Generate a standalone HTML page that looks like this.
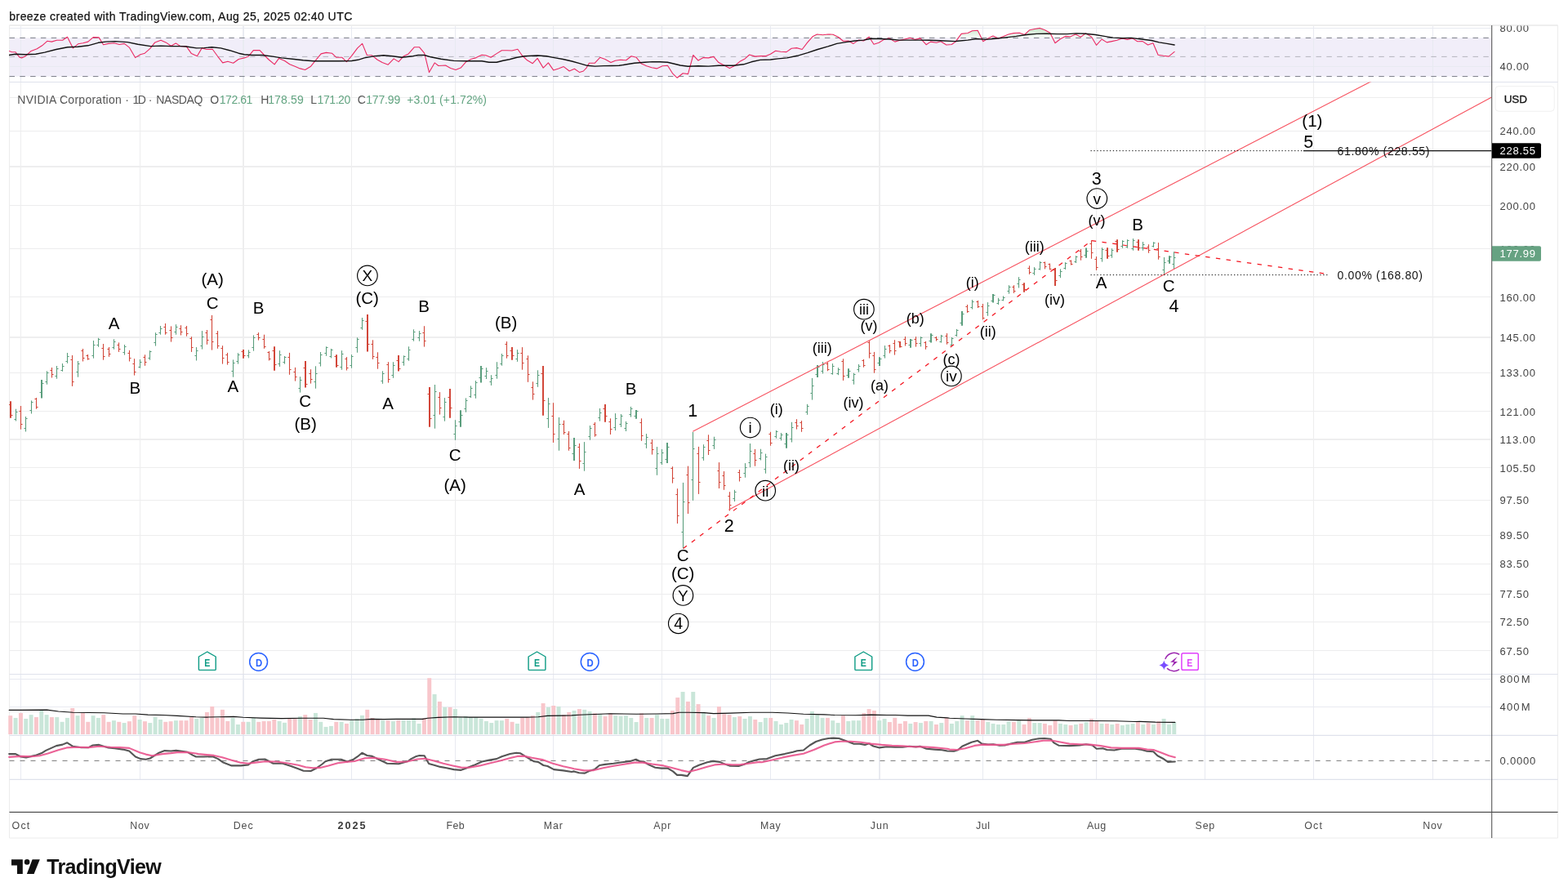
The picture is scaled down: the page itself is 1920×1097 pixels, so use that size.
<!DOCTYPE html>
<html lang="en"><head><meta charset="utf-8"><title>NVDA chart</title>
<style>html,body{margin:0;padding:0;background:#fff;overflow:hidden}svg{display:block}</style></head>
<body>
<svg width="1920" height="1097" viewBox="0 0 1920 1097" font-family='"Liberation Sans", Arial, Helvetica, sans-serif'>
<rect width="1920" height="1097" fill="#fff"/>
<defs><clipPath id="cm"><rect x="11" y="100.5" width="1815.5" height="725"/></clipPath><clipPath id="cr"><rect x="11" y="31" width="1815.5" height="69.5"/></clipPath><linearGradient id="og" gradientUnits="userSpaceOnUse" x1="0" y1="33" x2="0" y2="46.4"><stop offset="0" stop-color="#bfe3c2"/><stop offset="1" stop-color="#bfe3c2" stop-opacity="0.08"/></linearGradient><clipPath id="ca"><rect x="1827" y="31.5" width="80" height="994"/></clipPath></defs>
<text x="11.3" y="25" font-size="14" fill="#111" text-anchor="start" font-weight="normal" textLength="420" lengthAdjust="spacing" stroke="#111" stroke-width="0.25">breeze created with TradingView.com, Aug 25, 2025 02:40 UTC</text>
<rect x="11.5" y="46.4" width="1815.2" height="47.2" fill="#f1eef9"/>
<line x1="25.5" y1="31" x2="25.5" y2="100.5" stroke="#e8eaf1" stroke-width="1" />
<line x1="25.5" y1="100.5" x2="25.5" y2="825.5" stroke="#ededee" stroke-width="1" />
<line x1="25.5" y1="825.5" x2="25.5" y2="954.5" stroke="#e8eaf1" stroke-width="1" />
<line x1="171.5" y1="31" x2="171.5" y2="100.5" stroke="#e8eaf1" stroke-width="1" />
<line x1="171.5" y1="100.5" x2="171.5" y2="825.5" stroke="#ededee" stroke-width="1" />
<line x1="171.5" y1="825.5" x2="171.5" y2="954.5" stroke="#e8eaf1" stroke-width="1" />
<line x1="298" y1="31" x2="298" y2="100.5" stroke="#e9ebf1" stroke-width="2" />
<line x1="298" y1="100.5" x2="298" y2="825.5" stroke="#eeeeef" stroke-width="2" />
<line x1="298" y1="825.5" x2="298" y2="954.5" stroke="#e9ebf1" stroke-width="2" />
<line x1="430.5" y1="31" x2="430.5" y2="100.5" stroke="#e8eaf1" stroke-width="1" />
<line x1="430.5" y1="100.5" x2="430.5" y2="825.5" stroke="#ededee" stroke-width="1" />
<line x1="430.5" y1="825.5" x2="430.5" y2="954.5" stroke="#e8eaf1" stroke-width="1" />
<line x1="557.5" y1="31" x2="557.5" y2="100.5" stroke="#e8eaf1" stroke-width="1" />
<line x1="557.5" y1="100.5" x2="557.5" y2="825.5" stroke="#ededee" stroke-width="1" />
<line x1="557.5" y1="825.5" x2="557.5" y2="954.5" stroke="#e8eaf1" stroke-width="1" />
<line x1="677.5" y1="31" x2="677.5" y2="100.5" stroke="#e8eaf1" stroke-width="1" />
<line x1="677.5" y1="100.5" x2="677.5" y2="825.5" stroke="#ededee" stroke-width="1" />
<line x1="677.5" y1="825.5" x2="677.5" y2="954.5" stroke="#e8eaf1" stroke-width="1" />
<line x1="810.5" y1="31" x2="810.5" y2="100.5" stroke="#e8eaf1" stroke-width="1" />
<line x1="810.5" y1="100.5" x2="810.5" y2="825.5" stroke="#ededee" stroke-width="1" />
<line x1="810.5" y1="825.5" x2="810.5" y2="954.5" stroke="#e8eaf1" stroke-width="1" />
<line x1="943.5" y1="31" x2="943.5" y2="100.5" stroke="#e8eaf1" stroke-width="1" />
<line x1="943.5" y1="100.5" x2="943.5" y2="825.5" stroke="#ededee" stroke-width="1" />
<line x1="943.5" y1="825.5" x2="943.5" y2="954.5" stroke="#e8eaf1" stroke-width="1" />
<line x1="1077" y1="31" x2="1077" y2="100.5" stroke="#e9ebf1" stroke-width="2" />
<line x1="1077" y1="100.5" x2="1077" y2="825.5" stroke="#eeeeef" stroke-width="2" />
<line x1="1077" y1="825.5" x2="1077" y2="954.5" stroke="#e9ebf1" stroke-width="2" />
<line x1="1203.5" y1="31" x2="1203.5" y2="100.5" stroke="#e8eaf1" stroke-width="1" />
<line x1="1203.5" y1="100.5" x2="1203.5" y2="825.5" stroke="#ededee" stroke-width="1" />
<line x1="1203.5" y1="825.5" x2="1203.5" y2="954.5" stroke="#e8eaf1" stroke-width="1" />
<line x1="1342.5" y1="31" x2="1342.5" y2="100.5" stroke="#e8eaf1" stroke-width="1" />
<line x1="1342.5" y1="100.5" x2="1342.5" y2="825.5" stroke="#ededee" stroke-width="1" />
<line x1="1342.5" y1="825.5" x2="1342.5" y2="954.5" stroke="#e8eaf1" stroke-width="1" />
<line x1="1475.5" y1="31" x2="1475.5" y2="100.5" stroke="#e8eaf1" stroke-width="1" />
<line x1="1475.5" y1="100.5" x2="1475.5" y2="825.5" stroke="#ededee" stroke-width="1" />
<line x1="1475.5" y1="825.5" x2="1475.5" y2="954.5" stroke="#e8eaf1" stroke-width="1" />
<line x1="1608.5" y1="31" x2="1608.5" y2="100.5" stroke="#e8eaf1" stroke-width="1" />
<line x1="1608.5" y1="100.5" x2="1608.5" y2="825.5" stroke="#ededee" stroke-width="1" />
<line x1="1608.5" y1="825.5" x2="1608.5" y2="954.5" stroke="#e8eaf1" stroke-width="1" />
<line x1="1754.5" y1="31" x2="1754.5" y2="100.5" stroke="#e8eaf1" stroke-width="1" />
<line x1="1754.5" y1="100.5" x2="1754.5" y2="825.5" stroke="#ededee" stroke-width="1" />
<line x1="1754.5" y1="825.5" x2="1754.5" y2="954.5" stroke="#e8eaf1" stroke-width="1" />
<line x1="11.5" y1="119.5" x2="1826.1" y2="119.5" stroke="#ededee" stroke-width="1" />
<line x1="11.5" y1="160.5" x2="1826.1" y2="160.5" stroke="#ededee" stroke-width="1" />
<line x1="11.5" y1="204" x2="1826.1" y2="204" stroke="#eeeeef" stroke-width="2" />
<line x1="11.5" y1="251.5" x2="1826.1" y2="251.5" stroke="#ededee" stroke-width="1" />
<line x1="11.5" y1="304.5" x2="1826.1" y2="304.5" stroke="#ededee" stroke-width="1" />
<line x1="11.5" y1="363.5" x2="1826.1" y2="363.5" stroke="#ededee" stroke-width="1" />
<line x1="11.5" y1="413" x2="1826.1" y2="413" stroke="#eeeeef" stroke-width="2" />
<line x1="11.5" y1="456.5" x2="1826.1" y2="456.5" stroke="#ededee" stroke-width="1" />
<line x1="11.5" y1="503.5" x2="1826.1" y2="503.5" stroke="#ededee" stroke-width="1" />
<line x1="11.5" y1="538" x2="1826.1" y2="538" stroke="#eeeeef" stroke-width="2" />
<line x1="11.5" y1="572.5" x2="1826.1" y2="572.5" stroke="#ededee" stroke-width="1" />
<line x1="11.5" y1="612.5" x2="1826.1" y2="612.5" stroke="#ededee" stroke-width="1" />
<line x1="11.5" y1="655.5" x2="1826.1" y2="655.5" stroke="#ededee" stroke-width="1" />
<line x1="11.5" y1="690.5" x2="1826.1" y2="690.5" stroke="#ededee" stroke-width="1" />
<line x1="11.5" y1="727.5" x2="1826.1" y2="727.5" stroke="#ededee" stroke-width="1" />
<line x1="11.5" y1="761.5" x2="1826.1" y2="761.5" stroke="#ededee" stroke-width="1" />
<line x1="11.5" y1="796.5" x2="1826.1" y2="796.5" stroke="#ededee" stroke-width="1" />
<line x1="11.5" y1="34.5" x2="1826.1" y2="34.5" stroke="#e8eaf1" stroke-width="1" />
<line x1="11.5" y1="81.5" x2="1826.1" y2="81.5" stroke="#e8eaf1" stroke-width="1" />
<line x1="11.5" y1="831.5" x2="1826.1" y2="831.5" stroke="#e8eaf1" stroke-width="1" />
<line x1="11.5" y1="865.5" x2="1826.1" y2="865.5" stroke="#e8eaf1" stroke-width="1" />
<line x1="11.5" y1="31" x2="1907.5" y2="31" stroke="#eeeeee" stroke-width="2" />
<line x1="11.5" y1="31" x2="11.5" y2="1026" stroke="#ececec" stroke-width="1" />
<line x1="1907.5" y1="31" x2="1907.5" y2="1026" stroke="#ececec" stroke-width="1" />
<line x1="11.5" y1="1026" x2="1907.5" y2="1026" stroke="#ececec" stroke-width="1" />
<line x1="11.5" y1="100.5" x2="1907.5" y2="100.5" stroke="#dfe2ec" stroke-width="1.2" />
<line x1="11.5" y1="825.5" x2="1907.5" y2="825.5" stroke="#dfe2ec" stroke-width="1.2" />
<line x1="11.5" y1="900.4" x2="1907.5" y2="900.4" stroke="#dfe2ec" stroke-width="1.2" />
<line x1="11.5" y1="954.4" x2="1907.5" y2="954.4" stroke="#dfe2ec" stroke-width="1.2" />
<path d="M10.9,46.4 L14.1,46.4 L19.1,46.4 L21.1,46.4 L24.2,46.4 L26.6,46.4 L31.2,46.4 L37.5,46.4 L45.3,46.4 L51.6,46.4 L57.8,46.4 L63.3,46.4 L69.5,46.4 L76.6,46.4 L82.5,45.3 L89.4,46.4 L95.6,46.4 L101.6,46.4 L107.8,46.4 L114.1,45.6 L121.1,45.9 L126.6,46.4 L132.8,46.4 L139.8,46.4 L146.1,46.4 L152.3,46.4 L158.6,46.4 L165.6,46.4 L171.9,46.4 L177.3,46.4 L183.6,46.4 L189.8,46.4 L196.9,46.4 L203.1,46.4 L209.4,46.4 L215.3,46.4 L221.1,46.4 L228.1,46.4 L234.4,46.4 L241.4,46.4 L247.2,46.4 L253.1,46.4 L260.2,46.4 L266.4,46.4 L272.7,46.4 L278.9,46.4 L285.6,46.4 L292.2,46.4 L299.2,46.4 L304.1,46.4 L310.3,46.4 L318.1,46.4 L323.6,46.4 L329.1,46.4 L336.1,46.4 L341.6,46.4 L348.6,46.4 L354.8,46.4 L361.1,46.4 L367.3,46.4 L373.6,46.4 L380.6,46.4 L386.9,46.4 L393.1,46.4 L399.4,46.4 L406.4,46.4 L411.9,46.4 L418.9,46.4 L424.4,46.4 L430.6,46.4 L437.7,46.4 L443.6,46.4 L449.4,46.4 L455.6,46.4 L461.9,46.4 L468.1,46.4 L475.2,46.4 L482.2,46.4 L488.1,46.4 L493.9,46.4 L500.2,46.4 L507.2,46.4 L513.4,46.4 L519.7,46.4 L525.5,46.4 L532.2,46.4 L536.9,46.4 L545.5,46.4 L551.7,46.4 L558,46.4 L564.2,46.4 L570.5,46.4 L576.7,46.4 L583,46.4 L590,46.4 L594.8,46.4 L601.1,46.4 L608.1,46.4 L614.4,46.4 L620.6,46.4 L626.9,46.4 L633.9,46.4 L639.4,46.4 L645.6,46.4 L652.2,46.4 L658.1,46.4 L665.2,46.4 L671.4,46.4 L677.7,46.4 L683.9,46.4 L690.2,46.4 L697.2,46.4 L703.4,46.4 L709.7,46.4 L714.4,46.4 L718.3,46.4 L721.4,46.4 L728.4,46.4 L734.7,46.4 L740.9,46.4 L748,46.4 L753.4,46.4 L759.7,46.4 L766.7,46.4 L773,46.4 L779.2,46.4 L785.5,46.4 L791.7,46.4 L798,46.4 L804.2,46.4 L811.2,46.4 L817.5,46.4 L823.8,46.4 L829.2,46.4 L836.2,46.4 L842.5,46.4 L848.8,46.4 L855,46.4 L861.2,46.4 L867.5,46.4 L873.8,46.4 L880,46.4 L887.2,46.4 L893.4,46.4 L899.7,46.4 L905.9,46.4 L912.2,46.4 L917.7,46.4 L924.7,46.4 L931.7,46.4 L938,46.4 L943.4,46.4 L949.7,46.4 L955.9,46.4 L963,46.4 L969.2,46.4 L975.5,46.4 L982.2,46.4 L988.8,46.4 L995,44.8 L1000.5,42 L1007.5,42.8 L1013.8,42 L1020,42.2 L1026.2,45.2 L1032.5,46.4 L1038.8,46.4 L1045,46.4 L1051.2,46.4 L1057.5,46.4 L1064.2,45.2 L1070,46.4 L1076.2,46.4 L1082.5,46.4 L1088.8,46.4 L1095.8,46.4 L1101.2,46.4 L1107.5,46.4 L1114.5,46.4 L1120.8,46.4 L1127,46.4 L1134.1,46.4 L1139.5,46.4 L1146.6,46.4 L1152,46.4 L1158.8,46.4 L1165.3,46.4 L1170,46.4 L1177.2,41.4 L1185,40.5 L1190.5,37.8 L1197.2,37.3 L1203.8,46.4 L1210,46.4 L1215.9,44.1 L1222.5,46.4 L1228.8,44.5 L1235,42 L1241.2,40.6 L1248.3,40.2 L1254.5,42.5 L1260.8,36.7 L1267,35.5 L1273.3,34.4 L1279.5,36.7 L1285.8,40.2 L1292,46.4 L1298.3,46.4 L1304.5,44.4 L1310.8,44.8 L1317,42 L1323.3,45.2 L1329.5,40.9 L1336.6,45.3 L1342.5,46.4 L1349.1,46.4 L1355.3,46.4 L1361.6,46.4 L1367.8,46.4 L1374.1,46.4 L1380.3,46.4 L1386.6,46.4 L1392.8,46.4 L1399.1,46.4 L1405.6,46.4 L1411.9,46.4 L1418.1,46.4 L1424.8,46.4 L1431.1,46.4 L1438.1,46.4 L1438.1,46.4 L10.9,46.4 Z" fill="url(#og)" stroke="none" clip-path="url(#cr)"/>
<line x1="11.5" y1="46.4" x2="1826.7" y2="46.4" stroke="#787b86" stroke-width="1" stroke-dasharray="6.5 6.3"/>
<line x1="11.5" y1="69.4" x2="1826.7" y2="69.4" stroke="#b4b4bd" stroke-width="1" stroke-dasharray="6.5 6.3"/>
<line x1="11.5" y1="93.6" x2="1826.7" y2="93.6" stroke="#787b86" stroke-width="1" stroke-dasharray="6.5 6.3"/>
<g clip-path="url(#cr)">
<polyline points="10.9,62.5 14.1,63.6 19.1,63.8 21.1,66.7 24.2,70.3 26.6,70.9 31.2,68.8 37.5,62.8 45.3,59.7 51.6,55.8 57.8,50.3 63.3,51.1 69.5,49.2 76.6,49.2 82.5,45.3 89.4,58.9 95.6,53.8 101.6,52.7 107.8,51.1 114.1,45.6 121.1,45.9 126.6,54.7 132.8,53.4 139.8,52.7 146.1,54.5 152.3,53.4 158.6,58.4 165.6,70.6 171.9,66.7 177.3,65.2 183.6,59.7 189.8,51.9 196.9,49.2 203.1,51.9 209.4,56.2 215.3,53 221.1,56.6 228.1,56.6 234.4,65.6 241.4,68.8 247.2,58.9 253.1,60.5 260.2,60.2 266.4,68.8 272.7,76.9 278.9,75.3 285.6,77.3 292.2,72.5 299.2,70.9 304.1,69.1 310.3,61.6 318.1,61.6 323.6,67.5 329.1,73 336.1,78.8 341.6,71.4 348.6,74.5 354.8,78.8 361.1,81.2 367.3,83.9 373.6,85.5 380.6,81.2 386.9,73.4 393.1,65.9 399.4,64.4 406.4,65.2 411.9,70.3 418.9,70.3 424.4,75.6 430.6,68.3 437.7,58.9 443.6,53.4 449.4,67.5 455.6,67.8 461.9,73 468.1,76.6 475.2,79.2 482.2,71.9 488.1,75.6 493.9,69.1 500.2,65.9 507.2,57.8 513.4,57.7 519.7,65.2 525.5,88.6 532.2,76.9 536.9,80.5 545.5,80 551.7,83.4 558,85.5 564.2,83.1 570.5,75.8 576.7,72.5 583,70.6 590,67.2 594.8,67.8 601.1,70.3 608.1,65.6 614.4,61.7 620.6,61.7 626.9,62 633.9,60.2 639.4,68 645.6,73.8 652.2,77.7 658.1,71.4 665.2,83.1 671.4,76.9 677.7,85.9 683.9,83.9 690.2,81.6 697.2,87 703.4,84.2 709.7,88.6 714.4,87 718.3,82.8 721.4,77.2 728.4,77.2 734.7,70.3 740.9,72.5 748,76.6 753.4,74.2 759.7,73.3 766.7,73.8 773,68.8 779.2,70.3 785.5,78.1 791.7,80.8 798,82.8 804.2,83.9 811.2,80.8 817.5,80.3 823.8,90.2 829.2,95.3 836.2,89.7 842.5,90.6 848.8,67.5 855,74.1 861.2,70.6 867.5,70.9 873.8,69.4 880,76.6 887.2,80.3 893.4,83.6 899.7,80.5 905.9,75.3 912.2,71.9 917.7,67 924.7,69.1 931.7,68.6 938,68.6 943.4,66.2 949.7,62.3 955.9,63.3 963,63.6 969.2,59.2 975.5,58.6 982.2,60.5 988.8,51.9 995,44.8 1000.5,42 1007.5,42.8 1013.8,42 1020,42.2 1026.2,45.2 1032.5,50.3 1038.8,50 1045,53.4 1051.2,49.1 1057.5,50 1064.2,45.2 1070,54.2 1076.2,52.3 1082.5,48.4 1088.8,46.7 1095.8,51.1 1101.2,49.5 1107.5,48 1114.5,46.4 1120.8,48.4 1127,46.9 1134.1,54.7 1139.5,51.1 1146.6,52.2 1152,50.8 1158.8,55 1165.3,54.5 1170,51.1 1177.2,41.4 1185,40.5 1190.5,37.8 1197.2,37.3 1203.8,50.8 1210,46.9 1215.9,44.1 1222.5,46.9 1228.8,44.5 1235,42 1241.2,40.6 1248.3,40.2 1254.5,42.5 1260.8,36.7 1267,35.5 1273.3,34.4 1279.5,36.7 1285.8,40.2 1292,52.7 1298.3,47.7 1304.5,44.4 1310.8,44.8 1317,42 1323.3,45.2 1329.5,40.9 1336.6,45.3 1342.5,55.3 1349.1,48 1355.3,51.9 1361.6,50.6 1367.8,49.2 1374.1,46.9 1380.3,48.4 1386.6,46.9 1392.8,50.8 1399.1,50.6 1405.6,55 1411.9,52.7 1418.1,67.2 1424.8,68.3 1431.1,69.1 1438.1,63.3" fill="none" stroke="#ea2a63" stroke-width="1.1" stroke-linejoin="round" stroke-linecap="round" />
<polyline points="10.9,67.5 18.8,66.2 31.2,66.7 43.8,66.2 54.7,64.1 68.8,60.5 82.8,57.7 95.3,57.3 107.8,55.8 120.3,52.3 129.7,51.1 140.6,50.6 156.2,51.6 168.8,54.2 184.4,56.6 196.9,56.1 209.4,56.6 221.9,56.6 228.1,57 240.6,58.9 250,58.6 259.4,57.8 270.3,58.9 281.2,61.7 292.2,65.2 299.2,66.7 308.8,67.5 321.2,67.5 333.8,69.1 344.7,70.9 360.3,72.5 371.2,73.8 383.8,74.7 399.4,74.7 415,74.7 430.6,74.5 438.4,73.3 446.2,70.9 458.8,68.6 469.7,67.8 480.6,68.8 491.6,70.3 505.6,68.8 511.9,67.5 519.7,67.5 527.5,69.8 540,72.2 555.6,74.4 571.2,74.7 590,74.7 598.8,76.2 608.1,76.2 615.9,74.2 623.8,72.7 633.1,70.3 642.5,68.8 658.1,68 669.1,68.8 680,70.9 689.4,72.5 700.3,75 709.7,77.7 719.1,80.3 728.4,81.1 739.4,80.6 748.8,80.5 758.1,80.3 767.5,78.8 776.9,77.2 789.4,76.2 798.8,75.6 808.1,75.8 817.5,76.2 823.8,77.7 833.1,80 842.5,81.2 855,80.8 867.5,81.1 880,80.3 885.6,80.3 898.1,80.3 910.6,78.8 920,75.8 930.9,73.4 943.4,73 952.8,71.9 963.8,70.9 976.2,68.3 988.8,64.7 1001.2,60.5 1013.8,56.9 1024.7,53.4 1035.6,51.6 1046.6,50 1057.5,49.1 1066.9,47.2 1076.2,47.5 1088.8,48 1101.2,49.1 1113.8,49.1 1126.2,49.1 1138.8,49.2 1151.2,49.8 1170,50.6 1172.5,50.3 1185,49.1 1195.9,47.5 1206.9,48.4 1219.4,47.2 1231.9,45.9 1244.4,44.4 1256.9,42.5 1269.4,41.4 1281.9,41.2 1294.4,41.6 1306.9,41.6 1317.8,40.9 1328.8,41.2 1341.2,42.5 1352.2,44.4 1363.1,46.1 1374.1,46.7 1385,46.4 1397.5,48 1410,49.5 1419.4,51.9 1428.8,53.4 1438.1,55" fill="none" stroke="#111" stroke-width="1.4" stroke-linejoin="round" stroke-linecap="round" />
</g>
<g clip-path="url(#cm)">
<path d="M13,491.2V511.7" stroke="#d2473a" stroke-width="2" fill="none"/>
<path d="M10.5,495.5H13M13,508.5H15.5" stroke="#d2473a" stroke-width="1" fill="none"/>
<path d="M19.5,500.7V515.5" stroke="#5b9e7d" stroke-width="1.1" fill="none"/>
<path d="M17.45,513.5H19.5M19.5,504.5H21.55" stroke="#5b9e7d" stroke-width="1" fill="none"/>
<path d="M25.5,497V525.7" stroke="#d2473a" stroke-width="1.1" fill="none"/>
<path d="M23.45,503.5H25.5M25.5,519.5H27.55" stroke="#d2473a" stroke-width="1" fill="none"/>
<path d="M31.5,510V528.5" stroke="#5b9e7d" stroke-width="1.1" fill="none"/>
<path d="M29.45,524.5H31.5M31.5,512.5H33.55" stroke="#5b9e7d" stroke-width="1" fill="none"/>
<path d="M38.5,490.4V506.5" stroke="#5b9e7d" stroke-width="1.1" fill="none"/>
<path d="M36.45,502.5H38.5M38.5,492.5H40.55" stroke="#5b9e7d" stroke-width="1" fill="none"/>
<path d="M44.5,487V500.7" stroke="#d2473a" stroke-width="1.1" fill="none"/>
<path d="M42.45,488.5H44.5M44.5,498.5H46.55" stroke="#d2473a" stroke-width="1" fill="none"/>
<path d="M51,465V487.6" stroke="#5b9e7d" stroke-width="2" fill="none"/>
<path d="M48.5,480.5H51M51,469.5H53.5" stroke="#5b9e7d" stroke-width="1" fill="none"/>
<path d="M57.5,454.3V470.7" stroke="#5b9e7d" stroke-width="1.1" fill="none"/>
<path d="M55.45,467.5H57.5M57.5,456.5H59.55" stroke="#5b9e7d" stroke-width="1" fill="none"/>
<path d="M63.5,450V462.5" stroke="#d2473a" stroke-width="1.1" fill="none"/>
<path d="M61.45,453.5H63.5M63.5,458.5H65.55" stroke="#d2473a" stroke-width="1" fill="none"/>
<path d="M69.5,448V463.7" stroke="#5b9e7d" stroke-width="1.1" fill="none"/>
<path d="M67.45,460.5H69.5M69.5,451.5H71.55" stroke="#5b9e7d" stroke-width="1" fill="none"/>
<path d="M76.5,445V454.8" stroke="#5b9e7d" stroke-width="1.1" fill="none"/>
<path d="M74.45,453.5H76.5M76.5,448.5H78.55" stroke="#5b9e7d" stroke-width="1" fill="none"/>
<path d="M82.5,432V444.8" stroke="#5b9e7d" stroke-width="1.1" fill="none"/>
<path d="M80.45,442.5H82.5M82.5,436.5H84.55" stroke="#5b9e7d" stroke-width="1" fill="none"/>
<path d="M88.5,435V472.9" stroke="#d2473a" stroke-width="1.1" fill="none"/>
<path d="M86.45,440.5H88.5M88.5,467.5H90.55" stroke="#d2473a" stroke-width="1" fill="none"/>
<path d="M95.5,442V461.7" stroke="#5b9e7d" stroke-width="1.1" fill="none"/>
<path d="M93.45,455.5H95.5M95.5,445.5H97.55" stroke="#5b9e7d" stroke-width="1" fill="none"/>
<path d="M101.5,427V442.5" stroke="#d2473a" stroke-width="1.1" fill="none"/>
<path d="M99.45,429.5H101.5M101.5,438.5H103.55" stroke="#d2473a" stroke-width="1" fill="none"/>
<path d="M107.5,434V440.7" stroke="#d2473a" stroke-width="1.1" fill="none"/>
<path d="M105.45,435.5H107.5M107.5,439.5H109.55" stroke="#d2473a" stroke-width="1" fill="none"/>
<path d="M114.5,417V438.7" stroke="#5b9e7d" stroke-width="1.1" fill="none"/>
<path d="M112.45,435.5H114.5M114.5,422.5H116.55" stroke="#5b9e7d" stroke-width="1" fill="none"/>
<path d="M120.5,413.8V424.8" stroke="#5b9e7d" stroke-width="1.1" fill="none"/>
<path d="M118.45,422.5H120.5M120.5,415.5H122.55" stroke="#5b9e7d" stroke-width="1" fill="none"/>
<path d="M126.5,421V440.7" stroke="#d2473a" stroke-width="1.1" fill="none"/>
<path d="M124.45,426.5H126.5M126.5,436.5H128.55" stroke="#d2473a" stroke-width="1" fill="none"/>
<path d="M133.5,425V436.8" stroke="#d2473a" stroke-width="1.1" fill="none"/>
<path d="M131.45,427.5H133.5M133.5,433.5H135.55" stroke="#d2473a" stroke-width="1" fill="none"/>
<path d="M139.5,415.3V427.7" stroke="#5b9e7d" stroke-width="1.1" fill="none"/>
<path d="M137.45,425.5H139.5M139.5,418.5H141.55" stroke="#5b9e7d" stroke-width="1" fill="none"/>
<path d="M145.5,419.4V430.9" stroke="#d2473a" stroke-width="1.1" fill="none"/>
<path d="M143.45,422.5H145.5M145.5,427.5H147.55" stroke="#d2473a" stroke-width="1" fill="none"/>
<path d="M152.5,422V434.6" stroke="#5b9e7d" stroke-width="1.1" fill="none"/>
<path d="M150.45,431.5H152.5M152.5,424.5H154.55" stroke="#5b9e7d" stroke-width="1" fill="none"/>
<path d="M158.5,428.9V442.5" stroke="#d2473a" stroke-width="1.1" fill="none"/>
<path d="M156.45,432.5H158.5M158.5,438.5H160.55" stroke="#d2473a" stroke-width="1" fill="none"/>
<path d="M164.5,439.2V459.6" stroke="#d2473a" stroke-width="1.1" fill="none"/>
<path d="M162.45,445.5H164.5M164.5,455.5H166.55" stroke="#d2473a" stroke-width="1" fill="none"/>
<path d="M171.5,440V450.7" stroke="#5b9e7d" stroke-width="1.1" fill="none"/>
<path d="M169.45,449.5H171.5M171.5,443.5H173.55" stroke="#5b9e7d" stroke-width="1" fill="none"/>
<path d="M177.5,434.3V447.8" stroke="#d2473a" stroke-width="1.1" fill="none"/>
<path d="M175.45,437.5H177.5M177.5,443.5H179.55" stroke="#d2473a" stroke-width="1" fill="none"/>
<path d="M183.5,429.2V440.7" stroke="#5b9e7d" stroke-width="1.1" fill="none"/>
<path d="M181.45,438.5H183.5M183.5,430.5H185.55" stroke="#5b9e7d" stroke-width="1" fill="none"/>
<path d="M190.5,407.2V423.6" stroke="#5b9e7d" stroke-width="1.1" fill="none"/>
<path d="M188.45,419.5H190.5M190.5,409.5H192.55" stroke="#5b9e7d" stroke-width="1" fill="none"/>
<path d="M196.5,399V409.7" stroke="#5b9e7d" stroke-width="1.1" fill="none"/>
<path d="M194.45,407.5H196.5M196.5,402.5H198.55" stroke="#5b9e7d" stroke-width="1" fill="none"/>
<path d="M202.5,396V409.7" stroke="#d2473a" stroke-width="1.1" fill="none"/>
<path d="M200.45,400.5H202.5M202.5,407.5H204.55" stroke="#d2473a" stroke-width="1" fill="none"/>
<path d="M209.5,399.4V418.6" stroke="#d2473a" stroke-width="1.1" fill="none"/>
<path d="M207.45,404.5H209.5M209.5,413.5H211.55" stroke="#d2473a" stroke-width="1" fill="none"/>
<path d="M215.5,397.2V409.7" stroke="#5b9e7d" stroke-width="1.1" fill="none"/>
<path d="M213.45,406.5H215.5M215.5,400.5H217.55" stroke="#5b9e7d" stroke-width="1" fill="none"/>
<path d="M221.5,398.2V410.5" stroke="#d2473a" stroke-width="1.1" fill="none"/>
<path d="M219.45,402.5H221.5M221.5,406.5H223.55" stroke="#d2473a" stroke-width="1" fill="none"/>
<path d="M228.5,399V411.7" stroke="#d2473a" stroke-width="1.1" fill="none"/>
<path d="M226.45,401.5H228.5M228.5,408.5H230.55" stroke="#d2473a" stroke-width="1" fill="none"/>
<path d="M234.5,412.2V430.9" stroke="#d2473a" stroke-width="1.1" fill="none"/>
<path d="M232.45,414.5H234.5M234.5,425.5H236.55" stroke="#d2473a" stroke-width="1" fill="none"/>
<path d="M240.5,425.1V441.5" stroke="#5b9e7d" stroke-width="1.1" fill="none"/>
<path d="M238.45,435.5H240.5M240.5,429.5H242.55" stroke="#5b9e7d" stroke-width="1" fill="none"/>
<path d="M247.5,405.1V427.6" stroke="#5b9e7d" stroke-width="1.1" fill="none"/>
<path d="M245.45,423.5H247.5M247.5,412.5H249.55" stroke="#5b9e7d" stroke-width="1" fill="none"/>
<path d="M253.5,404V421.8" stroke="#d2473a" stroke-width="1.1" fill="none"/>
<path d="M251.45,407.5H253.5M253.5,416.5H255.55" stroke="#d2473a" stroke-width="1" fill="none"/>
<path d="M259.5,385.9V428.6" stroke="#d2473a" stroke-width="1.1" fill="none"/>
<path d="M257.45,391.5H259.5M259.5,418.5H261.55" stroke="#d2473a" stroke-width="1" fill="none"/>
<path d="M266.5,405.1V426.8" stroke="#d2473a" stroke-width="1.1" fill="none"/>
<path d="M264.45,408.5H266.5M266.5,423.5H268.55" stroke="#d2473a" stroke-width="1" fill="none"/>
<path d="M272.5,423.2V445.6" stroke="#d2473a" stroke-width="1.1" fill="none"/>
<path d="M270.45,426.5H272.5M272.5,438.5H274.55" stroke="#d2473a" stroke-width="1" fill="none"/>
<path d="M278.5,431.9V446.6" stroke="#d2473a" stroke-width="1.1" fill="none"/>
<path d="M276.45,434.5H278.5M278.5,443.5H280.55" stroke="#d2473a" stroke-width="1" fill="none"/>
<path d="M285.5,440.4V461.7" stroke="#5b9e7d" stroke-width="1.1" fill="none"/>
<path d="M283.45,454.5H285.5M285.5,444.5H287.55" stroke="#5b9e7d" stroke-width="1" fill="none"/>
<path d="M291.5,432.2V445.6" stroke="#5b9e7d" stroke-width="1.1" fill="none"/>
<path d="M289.45,442.5H291.5M291.5,434.5H293.55" stroke="#5b9e7d" stroke-width="1" fill="none"/>
<path d="M298,428.1V438.7" stroke="#d2473a" stroke-width="2" fill="none"/>
<path d="M295.5,430.5H298M298,435.5H300.5" stroke="#d2473a" stroke-width="1" fill="none"/>
<path d="M304.5,428.4V438.4" stroke="#5b9e7d" stroke-width="1.1" fill="none"/>
<path d="M302.45,435.5H304.5M304.5,431.5H306.55" stroke="#5b9e7d" stroke-width="1" fill="none"/>
<path d="M310.5,410.4V429.7" stroke="#5b9e7d" stroke-width="1.1" fill="none"/>
<path d="M308.45,425.5H310.5M310.5,413.5H312.55" stroke="#5b9e7d" stroke-width="1" fill="none"/>
<path d="M316.5,407.1V416.6" stroke="#d2473a" stroke-width="1.1" fill="none"/>
<path d="M314.45,409.5H316.5M316.5,413.5H318.55" stroke="#d2473a" stroke-width="1" fill="none"/>
<path d="M323.5,409.7V426.8" stroke="#d2473a" stroke-width="1.1" fill="none"/>
<path d="M321.45,415.5H323.5M323.5,424.5H325.55" stroke="#d2473a" stroke-width="1" fill="none"/>
<path d="M329.5,430V441.5" stroke="#d2473a" stroke-width="1.1" fill="none"/>
<path d="M327.45,431.5H329.5M329.5,439.5H331.55" stroke="#d2473a" stroke-width="1" fill="none"/>
<path d="M336,424.3V453.8" stroke="#d2473a" stroke-width="2" fill="none"/>
<path d="M333.5,429.5H336M336,446.5H338.5" stroke="#d2473a" stroke-width="1" fill="none"/>
<path d="M342.5,429.2V448.9" stroke="#5b9e7d" stroke-width="1.1" fill="none"/>
<path d="M340.45,445.5H342.5M342.5,434.5H344.55" stroke="#5b9e7d" stroke-width="1" fill="none"/>
<path d="M348.5,436V445.6" stroke="#5b9e7d" stroke-width="1.1" fill="none"/>
<path d="M346.45,443.5H348.5M348.5,437.5H350.55" stroke="#5b9e7d" stroke-width="1" fill="none"/>
<path d="M354.5,431.9V458.8" stroke="#d2473a" stroke-width="1.1" fill="none"/>
<path d="M352.45,437.5H354.5M354.5,452.5H356.55" stroke="#d2473a" stroke-width="1" fill="none"/>
<path d="M361.5,449.9V466.6" stroke="#d2473a" stroke-width="1.1" fill="none"/>
<path d="M359.45,455.5H361.5M361.5,461.5H363.55" stroke="#d2473a" stroke-width="1" fill="none"/>
<path d="M367.5,461.2V480.6" stroke="#5b9e7d" stroke-width="1.1" fill="none"/>
<path d="M365.45,475.5H367.5M367.5,465.5H369.55" stroke="#5b9e7d" stroke-width="1" fill="none"/>
<path d="M374,442V474.5" stroke="#d2473a" stroke-width="2" fill="none"/>
<path d="M371.5,450.5H374M374,470.5H376.5" stroke="#d2473a" stroke-width="1" fill="none"/>
<path d="M380.5,452.2V469.6" stroke="#d2473a" stroke-width="1.1" fill="none"/>
<path d="M378.45,457.5H380.5M380.5,464.5H382.55" stroke="#d2473a" stroke-width="1" fill="none"/>
<path d="M386.5,448.3V475.7" stroke="#5b9e7d" stroke-width="1.1" fill="none"/>
<path d="M384.45,467.5H386.5M386.5,457.5H388.55" stroke="#5b9e7d" stroke-width="1" fill="none"/>
<path d="M392.5,431V448.6" stroke="#5b9e7d" stroke-width="1.1" fill="none"/>
<path d="M390.45,444.5H392.5M392.5,434.5H394.55" stroke="#5b9e7d" stroke-width="1" fill="none"/>
<path d="M399.5,424.3V435.8" stroke="#5b9e7d" stroke-width="1.1" fill="none"/>
<path d="M397.45,432.5H399.5M399.5,425.5H401.55" stroke="#5b9e7d" stroke-width="1" fill="none"/>
<path d="M405.5,426.9V438.4" stroke="#5b9e7d" stroke-width="1.1" fill="none"/>
<path d="M403.45,436.5H405.5M405.5,428.5H407.55" stroke="#5b9e7d" stroke-width="1" fill="none"/>
<path d="M412,434.3V449.7" stroke="#d2473a" stroke-width="2" fill="none"/>
<path d="M409.5,436.5H412M412,447.5H414.5" stroke="#d2473a" stroke-width="1" fill="none"/>
<path d="M418.5,429.2V452.7" stroke="#5b9e7d" stroke-width="1.1" fill="none"/>
<path d="M416.45,449.5H418.5M418.5,433.5H420.55" stroke="#5b9e7d" stroke-width="1" fill="none"/>
<path d="M424.5,437.1V453.5" stroke="#d2473a" stroke-width="1.1" fill="none"/>
<path d="M422.45,439.5H424.5M424.5,450.5H426.55" stroke="#d2473a" stroke-width="1" fill="none"/>
<path d="M430.5,434.1V450.7" stroke="#5b9e7d" stroke-width="1.1" fill="none"/>
<path d="M428.45,447.5H430.5M430.5,436.5H432.55" stroke="#5b9e7d" stroke-width="1" fill="none"/>
<path d="M437.5,413.3V431.7" stroke="#5b9e7d" stroke-width="1.1" fill="none"/>
<path d="M435.45,425.5H437.5M437.5,415.5H439.55" stroke="#5b9e7d" stroke-width="1" fill="none"/>
<path d="M443.5,389V403.8" stroke="#5b9e7d" stroke-width="1.1" fill="none"/>
<path d="M441.45,401.5H443.5M443.5,392.5H445.55" stroke="#5b9e7d" stroke-width="1" fill="none"/>
<path d="M450,385.1V430.5" stroke="#d2473a" stroke-width="2" fill="none"/>
<path d="M447.5,393.5H450M450,421.5H452.5" stroke="#d2473a" stroke-width="1" fill="none"/>
<path d="M456.5,416.3V439.9" stroke="#d2473a" stroke-width="1.1" fill="none"/>
<path d="M454.45,421.5H456.5M456.5,436.5H458.55" stroke="#d2473a" stroke-width="1" fill="none"/>
<path d="M462.5,431.3V451.7" stroke="#d2473a" stroke-width="1.1" fill="none"/>
<path d="M460.45,437.5H462.5M462.5,444.5H464.55" stroke="#d2473a" stroke-width="1" fill="none"/>
<path d="M468.5,454.3V469.8" stroke="#5b9e7d" stroke-width="1.1" fill="none"/>
<path d="M466.45,466.5H468.5M468.5,457.5H470.55" stroke="#5b9e7d" stroke-width="1" fill="none"/>
<path d="M475.5,443.2V468.6" stroke="#d2473a" stroke-width="1.1" fill="none"/>
<path d="M473.45,446.5H475.5M475.5,464.5H477.55" stroke="#d2473a" stroke-width="1" fill="none"/>
<path d="M481.5,443.2V462.8" stroke="#5b9e7d" stroke-width="1.1" fill="none"/>
<path d="M479.45,459.5H481.5M481.5,447.5H483.55" stroke="#5b9e7d" stroke-width="1" fill="none"/>
<path d="M488,435V454.6" stroke="#d2473a" stroke-width="2" fill="none"/>
<path d="M485.5,441.5H488M488,451.5H490.5" stroke="#d2473a" stroke-width="1" fill="none"/>
<path d="M494.5,435.3V447.7" stroke="#5b9e7d" stroke-width="1.1" fill="none"/>
<path d="M492.45,443.5H494.5M494.5,436.5H496.55" stroke="#5b9e7d" stroke-width="1" fill="none"/>
<path d="M500.5,424.3V441.8" stroke="#5b9e7d" stroke-width="1.1" fill="none"/>
<path d="M498.45,439.5H500.5M500.5,428.5H502.55" stroke="#5b9e7d" stroke-width="1" fill="none"/>
<path d="M506.5,403.3V417.7" stroke="#5b9e7d" stroke-width="1.1" fill="none"/>
<path d="M504.45,415.5H506.5M506.5,406.5H508.55" stroke="#5b9e7d" stroke-width="1" fill="none"/>
<path d="M513.5,405.1V417.7" stroke="#5b9e7d" stroke-width="1.1" fill="none"/>
<path d="M511.45,413.5H513.5M513.5,408.5H515.55" stroke="#5b9e7d" stroke-width="1" fill="none"/>
<path d="M519.5,399.2V424.6" stroke="#d2473a" stroke-width="1.1" fill="none"/>
<path d="M517.45,407.5H519.5M519.5,417.5H521.55" stroke="#d2473a" stroke-width="1" fill="none"/>
<path d="M526,474V522.7" stroke="#d2473a" stroke-width="2" fill="none"/>
<path d="M523.5,482.5H526M526,512.5H528.5" stroke="#d2473a" stroke-width="1" fill="none"/>
<path d="M532.5,471V524.7" stroke="#5b9e7d" stroke-width="1.1" fill="none"/>
<path d="M530.45,508.5H532.5M532.5,479.5H534.55" stroke="#5b9e7d" stroke-width="1" fill="none"/>
<path d="M538.5,480.1V507.6" stroke="#d2473a" stroke-width="1.1" fill="none"/>
<path d="M536.45,486.5H538.5M538.5,499.5H540.55" stroke="#d2473a" stroke-width="1" fill="none"/>
<path d="M544.5,487.1V515.7" stroke="#5b9e7d" stroke-width="1.1" fill="none"/>
<path d="M542.45,510.5H544.5M544.5,492.5H546.55" stroke="#5b9e7d" stroke-width="1" fill="none"/>
<path d="M551,476V511.7" stroke="#d2473a" stroke-width="2" fill="none"/>
<path d="M548.5,486.5H551M551,499.5H553.5" stroke="#d2473a" stroke-width="1" fill="none"/>
<path d="M557.5,514.2V538.8" stroke="#5b9e7d" stroke-width="1.1" fill="none"/>
<path d="M555.45,531.5H557.5M557.5,521.5H559.55" stroke="#5b9e7d" stroke-width="1" fill="none"/>
<path d="M564,502.2V522.7" stroke="#5b9e7d" stroke-width="2" fill="none"/>
<path d="M561.5,516.5H564M564,508.5H566.5" stroke="#5b9e7d" stroke-width="1" fill="none"/>
<path d="M570.5,487.4V504.7" stroke="#5b9e7d" stroke-width="1.1" fill="none"/>
<path d="M568.45,500.5H570.5M570.5,490.5H572.55" stroke="#5b9e7d" stroke-width="1" fill="none"/>
<path d="M576.5,472.4V487" stroke="#5b9e7d" stroke-width="1.1" fill="none"/>
<path d="M574.45,485.5H576.5M576.5,475.5H578.55" stroke="#5b9e7d" stroke-width="1" fill="none"/>
<path d="M582.5,466.1V487.8" stroke="#5b9e7d" stroke-width="1.1" fill="none"/>
<path d="M580.45,483.5H582.5M582.5,468.5H584.55" stroke="#5b9e7d" stroke-width="1" fill="none"/>
<path d="M589,448.1V468.6" stroke="#5b9e7d" stroke-width="2" fill="none"/>
<path d="M586.5,462.5H589M589,451.5H591.5" stroke="#5b9e7d" stroke-width="1" fill="none"/>
<path d="M595.5,450.2V464" stroke="#5b9e7d" stroke-width="1.1" fill="none"/>
<path d="M593.45,460.5H595.5M595.5,454.5H597.55" stroke="#5b9e7d" stroke-width="1" fill="none"/>
<path d="M601.5,459.2V471.9" stroke="#5b9e7d" stroke-width="1.1" fill="none"/>
<path d="M599.45,467.5H601.5M601.5,463.5H603.55" stroke="#5b9e7d" stroke-width="1" fill="none"/>
<path d="M608.5,443.2V463.7" stroke="#5b9e7d" stroke-width="1.1" fill="none"/>
<path d="M606.45,459.5H608.5M608.5,450.5H610.55" stroke="#5b9e7d" stroke-width="1" fill="none"/>
<path d="M614.5,433V447.7" stroke="#5b9e7d" stroke-width="1.1" fill="none"/>
<path d="M612.45,445.5H614.5M614.5,435.5H616.55" stroke="#5b9e7d" stroke-width="1" fill="none"/>
<path d="M620.5,418.1V438.7" stroke="#d2473a" stroke-width="1.1" fill="none"/>
<path d="M618.45,421.5H620.5M620.5,435.5H622.55" stroke="#d2473a" stroke-width="1" fill="none"/>
<path d="M627,425.1V440.7" stroke="#d2473a" stroke-width="2" fill="none"/>
<path d="M624.5,429.5H627M627,435.5H629.5" stroke="#d2473a" stroke-width="1" fill="none"/>
<path d="M633.5,428.1V442.8" stroke="#5b9e7d" stroke-width="1.1" fill="none"/>
<path d="M631.45,439.5H633.5M633.5,432.5H635.55" stroke="#5b9e7d" stroke-width="1" fill="none"/>
<path d="M639.5,425.1V452.7" stroke="#d2473a" stroke-width="1.1" fill="none"/>
<path d="M637.45,432.5H639.5M639.5,444.5H641.55" stroke="#d2473a" stroke-width="1" fill="none"/>
<path d="M646.5,435.3V467.8" stroke="#d2473a" stroke-width="1.1" fill="none"/>
<path d="M644.45,439.5H646.5M646.5,458.5H648.55" stroke="#d2473a" stroke-width="1" fill="none"/>
<path d="M652.5,467.3V489.6" stroke="#d2473a" stroke-width="1.1" fill="none"/>
<path d="M650.45,474.5H652.5M652.5,482.5H654.55" stroke="#d2473a" stroke-width="1" fill="none"/>
<path d="M658.5,453.3V473.8" stroke="#5b9e7d" stroke-width="1.1" fill="none"/>
<path d="M656.45,469.5H658.5M658.5,459.5H660.55" stroke="#5b9e7d" stroke-width="1" fill="none"/>
<path d="M665,448.1V508.8" stroke="#d2473a" stroke-width="2" fill="none"/>
<path d="M662.5,457.5H665M665,490.5H667.5" stroke="#d2473a" stroke-width="1" fill="none"/>
<path d="M671.5,487.1V523.9" stroke="#5b9e7d" stroke-width="1.1" fill="none"/>
<path d="M669.45,512.5H671.5M671.5,494.5H673.55" stroke="#5b9e7d" stroke-width="1" fill="none"/>
<path d="M677.5,493.2V541.9" stroke="#d2473a" stroke-width="1.1" fill="none"/>
<path d="M675.45,509.5H677.5M677.5,531.5H679.55" stroke="#d2473a" stroke-width="1" fill="none"/>
<path d="M684.5,511V551.7" stroke="#5b9e7d" stroke-width="1.1" fill="none"/>
<path d="M682.45,537.5H684.5M684.5,519.5H686.55" stroke="#5b9e7d" stroke-width="1" fill="none"/>
<path d="M690.5,514.7V532" stroke="#d2473a" stroke-width="1.1" fill="none"/>
<path d="M688.45,519.5H690.5M690.5,529.5H692.55" stroke="#d2473a" stroke-width="1" fill="none"/>
<path d="M696.5,528V551.7" stroke="#d2473a" stroke-width="1.1" fill="none"/>
<path d="M694.45,531.5H696.5M696.5,548.5H698.55" stroke="#d2473a" stroke-width="1" fill="none"/>
<path d="M703,536V563.9" stroke="#5b9e7d" stroke-width="2" fill="none"/>
<path d="M700.5,555.5H703M703,545.5H705.5" stroke="#5b9e7d" stroke-width="1" fill="none"/>
<path d="M709.5,542.9V573.9" stroke="#d2473a" stroke-width="1.1" fill="none"/>
<path d="M707.45,547.5H709.5M709.5,564.5H711.55" stroke="#d2473a" stroke-width="1" fill="none"/>
<path d="M715.5,541.1V576.7" stroke="#5b9e7d" stroke-width="1.1" fill="none"/>
<path d="M713.45,567.5H715.5M715.5,553.5H717.55" stroke="#5b9e7d" stroke-width="1" fill="none"/>
<path d="M722.5,521V538.7" stroke="#5b9e7d" stroke-width="1.1" fill="none"/>
<path d="M720.45,534.5H722.5M722.5,524.5H724.55" stroke="#5b9e7d" stroke-width="1" fill="none"/>
<path d="M728.5,517V534.7" stroke="#d2473a" stroke-width="1.1" fill="none"/>
<path d="M726.45,519.5H728.5M728.5,532.5H730.55" stroke="#d2473a" stroke-width="1" fill="none"/>
<path d="M734.5,500V515.6" stroke="#5b9e7d" stroke-width="1.1" fill="none"/>
<path d="M732.45,511.5H734.5M734.5,505.5H736.55" stroke="#5b9e7d" stroke-width="1" fill="none"/>
<path d="M741,495.1V516.8" stroke="#d2473a" stroke-width="2" fill="none"/>
<path d="M738.5,500.5H741M741,509.5H743.5" stroke="#d2473a" stroke-width="1" fill="none"/>
<path d="M747.5,512.3V532" stroke="#d2473a" stroke-width="1.1" fill="none"/>
<path d="M745.45,516.5H747.5M747.5,525.5H749.55" stroke="#d2473a" stroke-width="1" fill="none"/>
<path d="M753.5,506.1V527.1" stroke="#5b9e7d" stroke-width="1.1" fill="none"/>
<path d="M751.45,523.5H753.5M753.5,512.5H755.55" stroke="#5b9e7d" stroke-width="1" fill="none"/>
<path d="M760.5,507V522.9" stroke="#5b9e7d" stroke-width="1.1" fill="none"/>
<path d="M758.45,519.5H760.5M760.5,509.5H762.55" stroke="#5b9e7d" stroke-width="1" fill="none"/>
<path d="M766.5,515.9V528" stroke="#5b9e7d" stroke-width="1.1" fill="none"/>
<path d="M764.45,524.5H766.5M766.5,518.5H768.55" stroke="#5b9e7d" stroke-width="1" fill="none"/>
<path d="M772.5,497.9V510.6" stroke="#5b9e7d" stroke-width="1.1" fill="none"/>
<path d="M770.45,507.5H772.5M772.5,500.5H774.55" stroke="#5b9e7d" stroke-width="1" fill="none"/>
<path d="M779,501.9V512.8" stroke="#5b9e7d" stroke-width="2" fill="none"/>
<path d="M776.5,509.5H779M779,503.5H781.5" stroke="#5b9e7d" stroke-width="1" fill="none"/>
<path d="M785.5,512.3V539.8" stroke="#d2473a" stroke-width="1.1" fill="none"/>
<path d="M783.45,517.5H785.5M785.5,533.5H787.55" stroke="#d2473a" stroke-width="1" fill="none"/>
<path d="M791.5,531.1V548.9" stroke="#5b9e7d" stroke-width="1.1" fill="none"/>
<path d="M789.45,543.5H791.5M791.5,535.5H793.55" stroke="#5b9e7d" stroke-width="1" fill="none"/>
<path d="M798.5,538V556.6" stroke="#d2473a" stroke-width="1.1" fill="none"/>
<path d="M796.45,542.5H798.5M798.5,550.5H800.55" stroke="#d2473a" stroke-width="1" fill="none"/>
<path d="M804.5,547.1V581.8" stroke="#5b9e7d" stroke-width="1.1" fill="none"/>
<path d="M802.45,573.5H804.5M804.5,555.5H806.55" stroke="#5b9e7d" stroke-width="1" fill="none"/>
<path d="M810.5,549.9V569" stroke="#5b9e7d" stroke-width="1.1" fill="none"/>
<path d="M808.45,566.5H810.5M810.5,554.5H812.55" stroke="#5b9e7d" stroke-width="1" fill="none"/>
<path d="M817,542V567" stroke="#5b9e7d" stroke-width="2" fill="none"/>
<path d="M814.5,562.5H817M817,547.5H819.5" stroke="#5b9e7d" stroke-width="1" fill="none"/>
<path d="M823.5,571.2V591.6" stroke="#d2473a" stroke-width="1.1" fill="none"/>
<path d="M821.45,573.5H823.5M823.5,585.5H825.55" stroke="#d2473a" stroke-width="1" fill="none"/>
<path d="M829.5,598.2V641" stroke="#d2473a" stroke-width="1.1" fill="none"/>
<path d="M827.45,605.5H829.5M829.5,631.5H831.55" stroke="#d2473a" stroke-width="1" fill="none"/>
<path d="M836.5,590.9V671.6" stroke="#5b9e7d" stroke-width="1.1" fill="none"/>
<path d="M834.45,651.5H836.5M836.5,614.5H838.55" stroke="#5b9e7d" stroke-width="1" fill="none"/>
<path d="M842.5,570.6V629" stroke="#d2473a" stroke-width="1.1" fill="none"/>
<path d="M840.45,581.5H842.5M842.5,615.5H844.55" stroke="#d2473a" stroke-width="1" fill="none"/>
<path d="M848.5,528.9V612.8" stroke="#5b9e7d" stroke-width="1.1" fill="none"/>
<path d="M846.45,587.5H848.5M848.5,549.5H850.55" stroke="#5b9e7d" stroke-width="1" fill="none"/>
<path d="M855.5,546.9V604.9" stroke="#d2473a" stroke-width="1.1" fill="none"/>
<path d="M853.45,555.5H855.5M855.5,590.5H857.55" stroke="#d2473a" stroke-width="1" fill="none"/>
<path d="M861.5,544.2V563.9" stroke="#5b9e7d" stroke-width="1.1" fill="none"/>
<path d="M859.45,560.5H861.5M861.5,547.5H863.55" stroke="#5b9e7d" stroke-width="1" fill="none"/>
<path d="M867.5,532.3V557" stroke="#d2473a" stroke-width="1.1" fill="none"/>
<path d="M865.45,539.5H867.5M867.5,551.5H869.55" stroke="#d2473a" stroke-width="1" fill="none"/>
<path d="M874.5,534.7V549.9" stroke="#5b9e7d" stroke-width="1.1" fill="none"/>
<path d="M872.45,545.5H874.5M874.5,538.5H876.55" stroke="#5b9e7d" stroke-width="1" fill="none"/>
<path d="M880.5,566.1V598" stroke="#d2473a" stroke-width="1.1" fill="none"/>
<path d="M878.45,576.5H880.5M880.5,590.5H882.55" stroke="#d2473a" stroke-width="1" fill="none"/>
<path d="M886.5,577V599.8" stroke="#d2473a" stroke-width="1.1" fill="none"/>
<path d="M884.45,582.5H886.5M886.5,594.5H888.55" stroke="#d2473a" stroke-width="1" fill="none"/>
<path d="M893.5,602.2V625.4" stroke="#d2473a" stroke-width="1.1" fill="none"/>
<path d="M891.45,607.5H893.5M893.5,618.5H895.55" stroke="#d2473a" stroke-width="1" fill="none"/>
<path d="M899.5,599.8V614" stroke="#5b9e7d" stroke-width="1.1" fill="none"/>
<path d="M897.45,610.5H899.5M899.5,602.5H901.55" stroke="#5b9e7d" stroke-width="1" fill="none"/>
<path d="M905.5,575V589.5" stroke="#d2473a" stroke-width="1.1" fill="none"/>
<path d="M903.45,578.5H905.5M905.5,584.5H907.55" stroke="#d2473a" stroke-width="1" fill="none"/>
<path d="M912.5,567.1V584.7" stroke="#5b9e7d" stroke-width="1.1" fill="none"/>
<path d="M910.45,579.5H912.5M912.5,572.5H914.55" stroke="#5b9e7d" stroke-width="1" fill="none"/>
<path d="M918.5,543V572.2" stroke="#5b9e7d" stroke-width="1.1" fill="none"/>
<path d="M916.45,566.5H918.5M918.5,552.5H920.55" stroke="#5b9e7d" stroke-width="1" fill="none"/>
<path d="M924.5,549.9V570.7" stroke="#d2473a" stroke-width="1.1" fill="none"/>
<path d="M922.45,555.5H924.5M924.5,563.5H926.55" stroke="#d2473a" stroke-width="1" fill="none"/>
<path d="M931.5,549.7V563.5" stroke="#5b9e7d" stroke-width="1.1" fill="none"/>
<path d="M929.45,561.5H931.5M931.5,554.5H933.55" stroke="#5b9e7d" stroke-width="1" fill="none"/>
<path d="M937.5,555.6V579.7" stroke="#5b9e7d" stroke-width="1.1" fill="none"/>
<path d="M935.45,574.5H937.5M937.5,559.5H939.55" stroke="#5b9e7d" stroke-width="1" fill="none"/>
<path d="M943.5,528.8V545.7" stroke="#d2473a" stroke-width="1.1" fill="none"/>
<path d="M941.45,531.5H943.5M943.5,542.5H945.55" stroke="#d2473a" stroke-width="1" fill="none"/>
<path d="M950.5,526.9V536.7" stroke="#5b9e7d" stroke-width="1.1" fill="none"/>
<path d="M948.45,534.5H950.5M950.5,528.5H952.55" stroke="#5b9e7d" stroke-width="1" fill="none"/>
<path d="M956.5,530V539.4" stroke="#5b9e7d" stroke-width="1.1" fill="none"/>
<path d="M954.45,536.5H956.5M956.5,532.5H958.55" stroke="#5b9e7d" stroke-width="1" fill="none"/>
<path d="M963,530V548.7" stroke="#5b9e7d" stroke-width="2" fill="none"/>
<path d="M960.5,543.5H963M963,532.5H965.5" stroke="#5b9e7d" stroke-width="1" fill="none"/>
<path d="M969.5,516.8V541.5" stroke="#5b9e7d" stroke-width="1.1" fill="none"/>
<path d="M967.45,537.5H969.5M969.5,523.5H971.55" stroke="#5b9e7d" stroke-width="1" fill="none"/>
<path d="M975.5,513.2V525.6" stroke="#d2473a" stroke-width="1.1" fill="none"/>
<path d="M973.45,517.5H975.5M975.5,521.5H977.55" stroke="#d2473a" stroke-width="1" fill="none"/>
<path d="M981.5,515.1V528.8" stroke="#d2473a" stroke-width="1.1" fill="none"/>
<path d="M979.45,517.5H981.5M981.5,524.5H983.55" stroke="#d2473a" stroke-width="1" fill="none"/>
<path d="M988.5,494.8V507.8" stroke="#5b9e7d" stroke-width="1.1" fill="none"/>
<path d="M986.45,504.5H988.5M988.5,497.5H990.55" stroke="#5b9e7d" stroke-width="1" fill="none"/>
<path d="M994.5,462.9V489.6" stroke="#5b9e7d" stroke-width="1.1" fill="none"/>
<path d="M992.45,481.5H994.5M994.5,472.5H996.55" stroke="#5b9e7d" stroke-width="1" fill="none"/>
<path d="M1001,447V461.9" stroke="#5b9e7d" stroke-width="2" fill="none"/>
<path d="M998.5,458.5H1001M1001,449.5H1003.5" stroke="#5b9e7d" stroke-width="1" fill="none"/>
<path d="M1007.5,443V457.5" stroke="#5b9e7d" stroke-width="1.1" fill="none"/>
<path d="M1005.45,454.5H1007.5M1007.5,446.5H1009.55" stroke="#5b9e7d" stroke-width="1" fill="none"/>
<path d="M1013.5,443.4V454.3" stroke="#d2473a" stroke-width="1.1" fill="none"/>
<path d="M1011.45,445.5H1013.5M1013.5,452.5H1015.55" stroke="#d2473a" stroke-width="1" fill="none"/>
<path d="M1019.5,445.1V458.7" stroke="#5b9e7d" stroke-width="1.1" fill="none"/>
<path d="M1017.45,457.5H1019.5M1019.5,448.5H1021.55" stroke="#5b9e7d" stroke-width="1" fill="none"/>
<path d="M1026.5,450.2V459.2" stroke="#5b9e7d" stroke-width="1.1" fill="none"/>
<path d="M1024.45,457.5H1026.5M1026.5,452.5H1028.55" stroke="#5b9e7d" stroke-width="1" fill="none"/>
<path d="M1032.5,439.3V465.9" stroke="#d2473a" stroke-width="1.1" fill="none"/>
<path d="M1030.45,442.5H1032.5M1032.5,460.5H1034.55" stroke="#d2473a" stroke-width="1" fill="none"/>
<path d="M1039,451.2V462.7" stroke="#5b9e7d" stroke-width="2" fill="none"/>
<path d="M1036.5,459.5H1039M1039,454.5H1041.5" stroke="#5b9e7d" stroke-width="1" fill="none"/>
<path d="M1045.5,456.7V470.7" stroke="#5b9e7d" stroke-width="1.1" fill="none"/>
<path d="M1043.45,465.5H1045.5M1045.5,458.5H1047.55" stroke="#5b9e7d" stroke-width="1" fill="none"/>
<path d="M1051.5,446V455.6" stroke="#5b9e7d" stroke-width="1.1" fill="none"/>
<path d="M1049.45,452.5H1051.5M1051.5,448.5H1053.55" stroke="#5b9e7d" stroke-width="1" fill="none"/>
<path d="M1057.5,439.9V449.7" stroke="#d2473a" stroke-width="1.1" fill="none"/>
<path d="M1055.45,441.5H1057.5M1057.5,447.5H1059.55" stroke="#d2473a" stroke-width="1" fill="none"/>
<path d="M1064.5,417.2V438.6" stroke="#d2473a" stroke-width="1.1" fill="none"/>
<path d="M1062.45,419.5H1064.5M1064.5,432.5H1066.55" stroke="#d2473a" stroke-width="1" fill="none"/>
<path d="M1070.5,430.9V456.7" stroke="#d2473a" stroke-width="1.1" fill="none"/>
<path d="M1068.45,435.5H1070.5M1070.5,452.5H1072.55" stroke="#d2473a" stroke-width="1" fill="none"/>
<path d="M1077,437.2V448.1" stroke="#5b9e7d" stroke-width="2" fill="none"/>
<path d="M1074.5,444.5H1077M1077,439.5H1079.5" stroke="#5b9e7d" stroke-width="1" fill="none"/>
<path d="M1083.5,423.1V438.6" stroke="#5b9e7d" stroke-width="1.1" fill="none"/>
<path d="M1081.45,435.5H1083.5M1083.5,427.5H1085.55" stroke="#5b9e7d" stroke-width="1" fill="none"/>
<path d="M1089.5,422.1V432.5" stroke="#d2473a" stroke-width="1.1" fill="none"/>
<path d="M1087.45,423.5H1089.5M1089.5,429.5H1091.55" stroke="#d2473a" stroke-width="1" fill="none"/>
<path d="M1095.5,416.2V434.6" stroke="#d2473a" stroke-width="1.1" fill="none"/>
<path d="M1093.45,420.5H1095.5M1095.5,429.5H1097.55" stroke="#d2473a" stroke-width="1" fill="none"/>
<path d="M1102,417.9V425.6" stroke="#d2473a" stroke-width="2" fill="none"/>
<path d="M1099.5,418.5H1102M1102,424.5H1104.5" stroke="#d2473a" stroke-width="1" fill="none"/>
<path d="M1108.5,412V423.5" stroke="#d2473a" stroke-width="1.1" fill="none"/>
<path d="M1106.45,415.5H1108.5M1108.5,420.5H1110.55" stroke="#d2473a" stroke-width="1" fill="none"/>
<path d="M1115,415V425.7" stroke="#5b9e7d" stroke-width="2" fill="none"/>
<path d="M1112.5,422.5H1115M1115,416.5H1117.5" stroke="#5b9e7d" stroke-width="1" fill="none"/>
<path d="M1121.5,412.2V424.6" stroke="#d2473a" stroke-width="1.1" fill="none"/>
<path d="M1119.45,415.5H1121.5M1121.5,420.5H1123.55" stroke="#d2473a" stroke-width="1" fill="none"/>
<path d="M1127.5,412.2V424.4" stroke="#5b9e7d" stroke-width="1.1" fill="none"/>
<path d="M1125.45,420.5H1127.5M1127.5,413.5H1129.55" stroke="#5b9e7d" stroke-width="1" fill="none"/>
<path d="M1133.5,417.8V427.8" stroke="#d2473a" stroke-width="1.1" fill="none"/>
<path d="M1131.45,419.5H1133.5M1133.5,424.5H1135.55" stroke="#d2473a" stroke-width="1" fill="none"/>
<path d="M1140,408.3V419.6" stroke="#5b9e7d" stroke-width="2" fill="none"/>
<path d="M1137.5,417.5H1140M1140,410.5H1142.5" stroke="#5b9e7d" stroke-width="1" fill="none"/>
<path d="M1146.5,411.9V417.6" stroke="#d2473a" stroke-width="1.1" fill="none"/>
<path d="M1144.45,413.5H1146.5M1146.5,415.5H1148.55" stroke="#d2473a" stroke-width="1" fill="none"/>
<path d="M1152.5,409.9V419.6" stroke="#5b9e7d" stroke-width="1.1" fill="none"/>
<path d="M1150.45,418.5H1152.5M1152.5,411.5H1154.55" stroke="#5b9e7d" stroke-width="1" fill="none"/>
<path d="M1159.5,408.1V421.7" stroke="#d2473a" stroke-width="1.1" fill="none"/>
<path d="M1157.45,411.5H1159.5M1159.5,419.5H1161.55" stroke="#d2473a" stroke-width="1" fill="none"/>
<path d="M1165.5,413V424.2" stroke="#5b9e7d" stroke-width="1.1" fill="none"/>
<path d="M1163.45,422.5H1165.5M1165.5,414.5H1167.55" stroke="#5b9e7d" stroke-width="1" fill="none"/>
<path d="M1171.5,402.9V411.9" stroke="#5b9e7d" stroke-width="1.1" fill="none"/>
<path d="M1169.45,410.5H1171.5M1171.5,404.5H1173.55" stroke="#5b9e7d" stroke-width="1" fill="none"/>
<path d="M1178,381.1V398.8" stroke="#5b9e7d" stroke-width="2" fill="none"/>
<path d="M1175.5,395.5H1178M1178,384.5H1180.5" stroke="#5b9e7d" stroke-width="1" fill="none"/>
<path d="M1184.5,373V382.9" stroke="#d2473a" stroke-width="1.1" fill="none"/>
<path d="M1182.45,375.5H1184.5M1184.5,381.5H1186.55" stroke="#d2473a" stroke-width="1" fill="none"/>
<path d="M1190.5,367.1V378.6" stroke="#5b9e7d" stroke-width="1.1" fill="none"/>
<path d="M1188.45,376.5H1190.5M1190.5,369.5H1192.55" stroke="#5b9e7d" stroke-width="1" fill="none"/>
<path d="M1197.5,367.9V377" stroke="#d2473a" stroke-width="1.1" fill="none"/>
<path d="M1195.45,369.5H1197.5M1197.5,375.5H1199.55" stroke="#d2473a" stroke-width="1" fill="none"/>
<path d="M1203.5,372V391.4" stroke="#d2473a" stroke-width="1.1" fill="none"/>
<path d="M1201.45,375.5H1203.5M1203.5,389.5H1205.55" stroke="#d2473a" stroke-width="1" fill="none"/>
<path d="M1209.5,370.1V386.8" stroke="#5b9e7d" stroke-width="1.1" fill="none"/>
<path d="M1207.45,382.5H1209.5M1209.5,374.5H1211.55" stroke="#5b9e7d" stroke-width="1" fill="none"/>
<path d="M1216,359.9V370.6" stroke="#5b9e7d" stroke-width="2" fill="none"/>
<path d="M1213.5,368.5H1216M1216,361.5H1218.5" stroke="#5b9e7d" stroke-width="1" fill="none"/>
<path d="M1222.5,364.8V373" stroke="#5b9e7d" stroke-width="1.1" fill="none"/>
<path d="M1220.45,371.5H1222.5M1222.5,367.5H1224.55" stroke="#5b9e7d" stroke-width="1" fill="none"/>
<path d="M1228.5,362.4V368.4" stroke="#5b9e7d" stroke-width="1.1" fill="none"/>
<path d="M1226.45,367.5H1228.5M1228.5,364.5H1230.55" stroke="#5b9e7d" stroke-width="1" fill="none"/>
<path d="M1235.5,349.2V359.7" stroke="#5b9e7d" stroke-width="1.1" fill="none"/>
<path d="M1233.45,356.5H1235.5M1235.5,351.5H1237.55" stroke="#5b9e7d" stroke-width="1" fill="none"/>
<path d="M1241.5,349.2V358.9" stroke="#d2473a" stroke-width="1.1" fill="none"/>
<path d="M1239.45,351.5H1241.5M1241.5,356.5H1243.55" stroke="#d2473a" stroke-width="1" fill="none"/>
<path d="M1247.5,339.2V352.5" stroke="#5b9e7d" stroke-width="1.1" fill="none"/>
<path d="M1245.45,347.5H1247.5M1247.5,342.5H1249.55" stroke="#5b9e7d" stroke-width="1" fill="none"/>
<path d="M1254,346.3V357.8" stroke="#d2473a" stroke-width="2" fill="none"/>
<path d="M1251.5,348.5H1254M1254,354.5H1256.5" stroke="#d2473a" stroke-width="1" fill="none"/>
<path d="M1260.5,325.3V335.9" stroke="#d2473a" stroke-width="1.1" fill="none"/>
<path d="M1258.45,328.5H1260.5M1260.5,333.5H1262.55" stroke="#d2473a" stroke-width="1" fill="none"/>
<path d="M1266.5,327.1V336.9" stroke="#5b9e7d" stroke-width="1.1" fill="none"/>
<path d="M1264.45,334.5H1266.5M1266.5,329.5H1268.55" stroke="#5b9e7d" stroke-width="1" fill="none"/>
<path d="M1273.5,320V330.7" stroke="#5b9e7d" stroke-width="1.1" fill="none"/>
<path d="M1271.45,329.5H1273.5M1273.5,321.5H1275.55" stroke="#5b9e7d" stroke-width="1" fill="none"/>
<path d="M1279.5,320.4V329.4" stroke="#d2473a" stroke-width="1.1" fill="none"/>
<path d="M1277.45,321.5H1279.5M1279.5,326.5H1281.55" stroke="#d2473a" stroke-width="1" fill="none"/>
<path d="M1285.5,322.5V330.4" stroke="#d2473a" stroke-width="1.1" fill="none"/>
<path d="M1283.45,323.5H1285.5M1285.5,329.5H1287.55" stroke="#d2473a" stroke-width="1" fill="none"/>
<path d="M1292,327.9V349.9" stroke="#d2473a" stroke-width="2" fill="none"/>
<path d="M1289.5,330.5H1292M1292,343.5H1294.5" stroke="#d2473a" stroke-width="1" fill="none"/>
<path d="M1298.5,329.4V340.2" stroke="#5b9e7d" stroke-width="1.1" fill="none"/>
<path d="M1296.45,337.5H1298.5M1298.5,332.5H1300.55" stroke="#5b9e7d" stroke-width="1" fill="none"/>
<path d="M1304.5,321.2V329.9" stroke="#5b9e7d" stroke-width="1.1" fill="none"/>
<path d="M1302.45,328.5H1304.5M1304.5,322.5H1306.55" stroke="#5b9e7d" stroke-width="1" fill="none"/>
<path d="M1311.5,318.4V324.6" stroke="#d2473a" stroke-width="1.1" fill="none"/>
<path d="M1309.45,319.5H1311.5M1311.5,323.5H1313.55" stroke="#d2473a" stroke-width="1" fill="none"/>
<path d="M1317.5,313.1V322" stroke="#5b9e7d" stroke-width="1.1" fill="none"/>
<path d="M1315.45,320.5H1317.5M1317.5,314.5H1319.55" stroke="#5b9e7d" stroke-width="1" fill="none"/>
<path d="M1323.5,305V318.7" stroke="#d2473a" stroke-width="1.1" fill="none"/>
<path d="M1321.45,307.5H1323.5M1323.5,314.5H1325.55" stroke="#d2473a" stroke-width="1" fill="none"/>
<path d="M1330,303.6V315.8" stroke="#5b9e7d" stroke-width="2" fill="none"/>
<path d="M1327.5,312.5H1330M1330,307.5H1332.5" stroke="#5b9e7d" stroke-width="1" fill="none"/>
<path d="M1336.5,294.2V316.8" stroke="#d2473a" stroke-width="1.1" fill="none"/>
<path d="M1334.45,298.5H1336.5M1336.5,309.5H1338.55" stroke="#d2473a" stroke-width="1" fill="none"/>
<path d="M1342.5,314.1V330.9" stroke="#d2473a" stroke-width="1.1" fill="none"/>
<path d="M1340.45,317.5H1342.5M1342.5,327.5H1344.55" stroke="#d2473a" stroke-width="1" fill="none"/>
<path d="M1349.5,303.2V320.6" stroke="#5b9e7d" stroke-width="1.1" fill="none"/>
<path d="M1347.45,316.5H1349.5M1349.5,305.5H1351.55" stroke="#5b9e7d" stroke-width="1" fill="none"/>
<path d="M1356,303.2V316.7" stroke="#d2473a" stroke-width="2" fill="none"/>
<path d="M1353.5,306.5H1356M1356,313.5H1358.5" stroke="#d2473a" stroke-width="1" fill="none"/>
<path d="M1361.5,304.2V315.7" stroke="#5b9e7d" stroke-width="1.1" fill="none"/>
<path d="M1359.45,312.5H1361.5M1361.5,306.5H1363.55" stroke="#5b9e7d" stroke-width="1" fill="none"/>
<path d="M1368,293.2V308.75" stroke="#d2473a" stroke-width="2" fill="none"/>
<path d="M1365.5,295.5H1368M1368,305.5H1370.5" stroke="#d2473a" stroke-width="1" fill="none"/>
<path d="M1374.5,294.2V303.75" stroke="#5b9e7d" stroke-width="1.1" fill="none"/>
<path d="M1372.45,301.5H1374.5M1374.5,295.5H1376.55" stroke="#5b9e7d" stroke-width="1" fill="none"/>
<path d="M1380.5,293.2V303.75" stroke="#5b9e7d" stroke-width="1.1" fill="none"/>
<path d="M1378.45,302.5H1380.5M1380.5,294.5H1382.55" stroke="#5b9e7d" stroke-width="1" fill="none"/>
<path d="M1387.5,292.1V306.7" stroke="#5b9e7d" stroke-width="1.1" fill="none"/>
<path d="M1385.45,304.5H1387.5M1387.5,294.5H1389.55" stroke="#5b9e7d" stroke-width="1" fill="none"/>
<path d="M1394,293.2V306.7" stroke="#d2473a" stroke-width="2" fill="none"/>
<path d="M1391.5,296.5H1394M1394,303.5H1396.5" stroke="#d2473a" stroke-width="1" fill="none"/>
<path d="M1399.5,296.1V306.7" stroke="#5b9e7d" stroke-width="1.1" fill="none"/>
<path d="M1397.45,303.5H1399.5M1399.5,299.5H1401.55" stroke="#5b9e7d" stroke-width="1" fill="none"/>
<path d="M1406.5,299.2V309.8" stroke="#d2473a" stroke-width="1.1" fill="none"/>
<path d="M1404.45,302.5H1406.5M1406.5,306.5H1408.55" stroke="#d2473a" stroke-width="1" fill="none"/>
<path d="M1412.5,296.25V302.75" stroke="#5b9e7d" stroke-width="1.1" fill="none"/>
<path d="M1410.45,301.5H1412.5M1412.5,297.5H1414.55" stroke="#5b9e7d" stroke-width="1" fill="none"/>
<path d="M1418.5,297.1V317.75" stroke="#d2473a" stroke-width="1.1" fill="none"/>
<path d="M1416.45,304.5H1418.5M1418.5,314.5H1420.55" stroke="#d2473a" stroke-width="1" fill="none"/>
<path d="M1425.5,315V336.7" stroke="#5b9e7d" stroke-width="1.1" fill="none"/>
<path d="M1423.45,330.5H1425.5M1425.5,321.5H1427.55" stroke="#5b9e7d" stroke-width="1" fill="none"/>
<path d="M1432,313.2V322.75" stroke="#5b9e7d" stroke-width="2" fill="none"/>
<path d="M1429.5,319.5H1432M1432,314.5H1434.5" stroke="#5b9e7d" stroke-width="1" fill="none"/>
<path d="M1437.5,308.2V329.3" stroke="#5b9e7d" stroke-width="1.1" fill="none"/>
<path d="M1435.45,323.5H1437.5M1437.5,315.5H1439.55" stroke="#5b9e7d" stroke-width="1" fill="none"/>
<line x1="848.3" y1="528.3" x2="1697.72" y2="90" stroke="#f7525f" stroke-width="1.1" />
<line x1="892.3" y1="624.3" x2="1826.5" y2="119" stroke="#f7525f" stroke-width="1.1" />
<path d="M836.6,671.6 L1336.8,294.6" fill="none" stroke="#f4141f" stroke-width="1.25" stroke-dasharray="5.4 7.4"/>
<path d="M1336.8,294.6 L1625,335.5" fill="none" stroke="#f4141f" stroke-width="1.25" stroke-dasharray="5.4 7.4"/>
<line x1="1335.5" y1="184.6" x2="1596" y2="184.6" stroke="#111" stroke-width="1" stroke-dasharray="1.3 2.6"/>
<line x1="1335.5" y1="336.6" x2="1628" y2="336.6" stroke="#111" stroke-width="1" stroke-dasharray="1.3 2.6"/>
</g>
<line x1="1596" y1="184.6" x2="1826.7" y2="184.6" stroke="#111" stroke-width="1.1" />
<text x="1637.5" y="189.8" font-size="14" fill="#111" text-anchor="start" font-weight="normal" textLength="113" lengthAdjust="spacing" >61.80% (228.55)</text>
<text x="1637.5" y="341.6" font-size="14" fill="#111" text-anchor="start" font-weight="normal" textLength="104.5" lengthAdjust="spacing" >0.00% (168.80)</text>
<text x="21.3" y="127" font-size="14" fill="#555" text-anchor="start" font-weight="normal" textLength="127.5" lengthAdjust="spacing" >NVIDIA Corporation</text>
<text x="153.3" y="127" font-size="14" fill="#555" text-anchor="start" font-weight="normal" >·</text>
<text x="162.5" y="127" font-size="14" fill="#555" text-anchor="start" font-weight="normal" textLength="16.3" lengthAdjust="spacing" >1D</text>
<text x="181.7" y="127" font-size="14" fill="#555" text-anchor="start" font-weight="normal" >·</text>
<text x="191.3" y="127" font-size="14" fill="#555" text-anchor="start" font-weight="normal" textLength="57" lengthAdjust="spacing" >NASDAQ</text>
<text x="257.3" y="127" font-size="14" fill="#555" text-anchor="start" font-weight="normal" >O</text>
<text x="268.8" y="127" font-size="14" fill="#62a481" text-anchor="start" font-weight="normal" textLength="40.5" lengthAdjust="spacing" >172.61</text>
<text x="319.3" y="127" font-size="14" fill="#555" text-anchor="start" font-weight="normal" >H</text>
<text x="328.2" y="127" font-size="14" fill="#62a481" text-anchor="start" font-weight="normal" textLength="43.5" lengthAdjust="spacing" >178.59</text>
<text x="380.3" y="127" font-size="14" fill="#555" text-anchor="start" font-weight="normal" >L</text>
<text x="388.6" y="127" font-size="14" fill="#62a481" text-anchor="start" font-weight="normal" textLength="40.6" lengthAdjust="spacing" >171.20</text>
<text x="437.8" y="127" font-size="14" fill="#555" text-anchor="start" font-weight="normal" >C</text>
<text x="448.2" y="127" font-size="14" fill="#62a481" text-anchor="start" font-weight="normal" textLength="42" lengthAdjust="spacing" >177.99</text>
<text x="498.2" y="127" font-size="14" fill="#62a481" text-anchor="start" font-weight="normal" textLength="97.8" lengthAdjust="spacing" >+3.01 (+1.72%)</text>
<text x="139.7" y="402.54" font-size="20.5" fill="#000" text-anchor="middle" font-weight="normal" >A</text>
<text x="165.4" y="482.24" font-size="20.5" fill="#000" text-anchor="middle" font-weight="normal" >B</text>
<text x="260.1" y="348.94" font-size="20.5" fill="#000" text-anchor="middle" font-weight="normal" >(A)</text>
<text x="260.1" y="378.24" font-size="20.5" fill="#000" text-anchor="middle" font-weight="normal" >C</text>
<text x="316.7" y="383.84" font-size="20.5" fill="#000" text-anchor="middle" font-weight="normal" >B</text>
<text x="285.4" y="479.84" font-size="20.5" fill="#000" text-anchor="middle" font-weight="normal" >A</text>
<text x="373.7" y="497.54" font-size="20.5" fill="#000" text-anchor="middle" font-weight="normal" >C</text>
<text x="374.1" y="526.24" font-size="20.5" fill="#000" text-anchor="middle" font-weight="normal" >(B)</text>
<text x="449.7" y="371.94" font-size="20.5" fill="#000" text-anchor="middle" font-weight="normal" >(C)</text>
<text x="519.1" y="381.54" font-size="20.5" fill="#000" text-anchor="middle" font-weight="normal" >B</text>
<text x="475.1" y="500.54" font-size="20.5" fill="#000" text-anchor="middle" font-weight="normal" >A</text>
<text x="619.7" y="402.24" font-size="20.5" fill="#000" text-anchor="middle" font-weight="normal" >(B)</text>
<text x="557.1" y="564.24" font-size="20.5" fill="#000" text-anchor="middle" font-weight="normal" >C</text>
<text x="557.1" y="601.24" font-size="20.5" fill="#000" text-anchor="middle" font-weight="normal" >(A)</text>
<text x="709.7" y="605.54" font-size="20.5" fill="#000" text-anchor="middle" font-weight="normal" >A</text>
<text x="772.7" y="483.24" font-size="20.5" fill="#000" text-anchor="middle" font-weight="normal" >B</text>
<text x="836.2" y="686.94" font-size="20.5" fill="#000" text-anchor="middle" font-weight="normal" >C</text>
<text x="836.2" y="708.74" font-size="20.5" fill="#000" text-anchor="middle" font-weight="normal" >(C)</text>
<text x="1393.1" y="281.74" font-size="20.5" fill="#000" text-anchor="middle" font-weight="normal" >B</text>
<text x="1348.7" y="352.54" font-size="20.5" fill="#000" text-anchor="middle" font-weight="normal" >A</text>
<text x="1431.1" y="356.54" font-size="20.5" fill="#000" text-anchor="middle" font-weight="normal" >C</text>
<text x="848.3" y="509.5" font-size="21.5" fill="#000" text-anchor="middle" font-weight="normal" >1</text>
<text x="892.7" y="651.2" font-size="21.5" fill="#000" text-anchor="middle" font-weight="normal" >2</text>
<text x="1342.7" y="226.2" font-size="21.5" fill="#000" text-anchor="middle" font-weight="normal" >3</text>
<text x="1437.6" y="381.5" font-size="21.5" fill="#000" text-anchor="middle" font-weight="normal" >4</text>
<text x="1602.2" y="180.5" font-size="21.5" fill="#000" text-anchor="middle" font-weight="normal" >5</text>
<text x="1606.9" y="155.04" font-size="20.5" fill="#000" text-anchor="middle" font-weight="normal" >(1)</text>
<text x="950.8" y="507.24" font-size="18" fill="#000" text-anchor="middle" font-weight="normal" >(i)</text>
<text x="969.1" y="575.94" font-size="18" fill="#000" text-anchor="middle" font-weight="normal" >(ii)</text>
<text x="1006.7" y="432.24" font-size="18" fill="#000" text-anchor="middle" font-weight="normal" >(iii)</text>
<text x="1045.1" y="499.24" font-size="18" fill="#000" text-anchor="middle" font-weight="normal" >(iv)</text>
<text x="1064.1" y="404.94" font-size="18" fill="#000" text-anchor="middle" font-weight="normal" >(v)</text>
<text x="1076.9" y="477.64" font-size="18" fill="#000" text-anchor="middle" font-weight="normal" >(a)</text>
<text x="1120.8" y="395.94" font-size="18" fill="#000" text-anchor="middle" font-weight="normal" >(b)</text>
<text x="1165.1" y="445.94" font-size="18" fill="#000" text-anchor="middle" font-weight="normal" >(c)</text>
<text x="1190.8" y="352.24" font-size="18" fill="#000" text-anchor="middle" font-weight="normal" >(i)</text>
<text x="1209.8" y="412.24" font-size="18" fill="#000" text-anchor="middle" font-weight="normal" >(ii)</text>
<text x="1266.8" y="308.24" font-size="18" fill="#000" text-anchor="middle" font-weight="normal" >(iii)</text>
<text x="1291.4" y="372.64" font-size="18" fill="#000" text-anchor="middle" font-weight="normal" >(iv)</text>
<text x="1343" y="275.74" font-size="18" fill="#000" text-anchor="middle" font-weight="normal" >(v)</text>
<circle cx="449.9" cy="337.4" r="12.3" fill="none" stroke="#000" stroke-width="1.15"/>
<text x="449.9" y="344.2" font-size="19" fill="#000" text-anchor="middle" font-weight="normal" >X</text>
<circle cx="836.4" cy="728.9" r="12.3" fill="none" stroke="#000" stroke-width="1.15"/>
<text x="836.4" y="735.7" font-size="19" fill="#000" text-anchor="middle" font-weight="normal" >Y</text>
<circle cx="830.7" cy="763.4" r="12.2" fill="none" stroke="#000" stroke-width="1.15"/>
<text x="830.7" y="770.38" font-size="19.5" fill="#000" text-anchor="middle" font-weight="normal" >4</text>
<circle cx="918.7" cy="523.5" r="12.3" fill="none" stroke="#000" stroke-width="1.15"/>
<text x="918.7" y="530.3" font-size="19" fill="#000" text-anchor="middle" font-weight="normal" >i</text>
<circle cx="937.2" cy="600.7" r="12.3" fill="none" stroke="#000" stroke-width="1.15"/>
<text x="937.2" y="607.5" font-size="19" fill="#000" text-anchor="middle" font-weight="normal" >ii</text>
<circle cx="1057.9" cy="378.7" r="12.3" fill="none" stroke="#000" stroke-width="1.15"/>
<text x="1057.9" y="385.14" font-size="18" fill="#000" text-anchor="middle" font-weight="normal" >iii</text>
<circle cx="1164.9" cy="460.4" r="12.3" fill="none" stroke="#000" stroke-width="1.15"/>
<text x="1164.9" y="467.2" font-size="19" fill="#000" text-anchor="middle" font-weight="normal" >iv</text>
<circle cx="1343.3" cy="243" r="12.3" fill="none" stroke="#000" stroke-width="1.15"/>
<text x="1343.3" y="249.8" font-size="19" fill="#000" text-anchor="middle" font-weight="normal" >v</text>
<path d="M243.4,804 L253.8,798 L264.2,804 V819.4 q0,1 -1,1 H244.4 q-1,0 -1,-1 Z" fill="#fff" stroke="#0d9b84" stroke-width="1.4" stroke-linejoin="round"/>
<text transform="translate(253.7,815.8) scale(0.84,1.07)" font-size="12.6" font-weight="bold" fill="#0d9b84" text-anchor="middle">E</text>
<path d="M647.1,804 L657.5,798 L667.9,804 V819.4 q0,1 -1,1 H648.1 q-1,0 -1,-1 Z" fill="#fff" stroke="#0d9b84" stroke-width="1.4" stroke-linejoin="round"/>
<text transform="translate(657.4,815.8) scale(0.84,1.07)" font-size="12.6" font-weight="bold" fill="#0d9b84" text-anchor="middle">E</text>
<path d="M1046.9,804 L1057.3,798 L1067.7,804 V819.4 q0,1 -1,1 H1047.9 q-1,0 -1,-1 Z" fill="#fff" stroke="#0d9b84" stroke-width="1.4" stroke-linejoin="round"/>
<text transform="translate(1057.2,815.8) scale(0.84,1.07)" font-size="12.6" font-weight="bold" fill="#0d9b84" text-anchor="middle">E</text>
<circle cx="316.6" cy="810.3" r="10.9" fill="#fff" stroke="#2962ff" stroke-width="1.5"/>
<text transform="translate(317,815.8) scale(0.9,1.07)" font-size="12.6" font-weight="bold" fill="#2962ff" text-anchor="middle">D</text>
<circle cx="722.2" cy="810.3" r="10.9" fill="#fff" stroke="#2962ff" stroke-width="1.5"/>
<text transform="translate(722.6,815.8) scale(0.9,1.07)" font-size="12.6" font-weight="bold" fill="#2962ff" text-anchor="middle">D</text>
<circle cx="1120.5" cy="810.3" r="10.9" fill="#fff" stroke="#2962ff" stroke-width="1.5"/>
<text transform="translate(1120.9,815.8) scale(0.9,1.07)" font-size="12.6" font-weight="bold" fill="#2962ff" text-anchor="middle">D</text>
<path d="M1425.3,808.6 q0.9,4.9 5.8,5.8 q-4.9,0.9 -5.8,5.8 q-0.9,-4.9 -5.8,-5.8 q4.900,-0.9 5.8,-5.8 Z" fill="#7a4dff"/>
<path d="M1427,806.5 A11.6,11.6 0 0 1 1443.6,801" fill="none" stroke="#9c27b0" stroke-width="1.5" stroke-linecap="round"/>
<path d="M1429.5,818.6 A11.6,11.6 0 0 0 1443.6,819.8" fill="none" stroke="#9c27b0" stroke-width="1.5" stroke-linecap="round"/>
<path d="M1441.6,804 L1433,810.8 H1437.6 L1434.4,816.8 L1442,810 H1437.6 Z" fill="#9c27b0"/>
<rect x="1446.9" y="799.8" width="20.4" height="20.4" rx="1.8" fill="#fff" stroke="#e040fb" stroke-width="1.5"/>
<text transform="translate(1456.8,815.9) scale(0.84,1.07)" font-size="12.6" font-weight="bold" fill="#e040fb" text-anchor="middle">E</text>
<rect x="10.28" y="876.14" width="4.95" height="22.86" fill="#f8c6cb"/>
<rect x="16.62" y="878.95" width="4.95" height="20.05" fill="#c9e6d9"/>
<rect x="22.95" y="872.95" width="4.95" height="26.05" fill="#f8c6cb"/>
<rect x="29.28" y="879.97" width="4.95" height="19.03" fill="#c9e6d9"/>
<rect x="35.62" y="875.12" width="4.95" height="23.88" fill="#c9e6d9"/>
<rect x="41.95" y="878.05" width="4.95" height="20.95" fill="#f8c6cb"/>
<rect x="48.28" y="869.76" width="4.95" height="29.24" fill="#c9e6d9"/>
<rect x="54.62" y="875.12" width="4.95" height="23.88" fill="#c9e6d9"/>
<rect x="60.95" y="878.05" width="4.95" height="20.95" fill="#f8c6cb"/>
<rect x="67.28" y="878.05" width="4.95" height="20.95" fill="#c9e6d9"/>
<rect x="73.62" y="883.8" width="4.95" height="15.2" fill="#c9e6d9"/>
<rect x="79.95" y="878.95" width="4.95" height="20.05" fill="#c9e6d9"/>
<rect x="86.28" y="866.95" width="4.95" height="32.05" fill="#f8c6cb"/>
<rect x="92.62" y="876.14" width="4.95" height="22.86" fill="#c9e6d9"/>
<rect x="98.95" y="872.95" width="4.95" height="26.05" fill="#f8c6cb"/>
<rect x="105.28" y="883.8" width="4.95" height="15.2" fill="#f8c6cb"/>
<rect x="111.62" y="876.14" width="4.95" height="22.86" fill="#c9e6d9"/>
<rect x="117.95" y="878.95" width="4.95" height="20.05" fill="#c9e6d9"/>
<rect x="124.28" y="875.12" width="4.95" height="23.88" fill="#f8c6cb"/>
<rect x="130.62" y="883.8" width="4.95" height="15.2" fill="#f8c6cb"/>
<rect x="136.95" y="882.14" width="4.95" height="16.86" fill="#c9e6d9"/>
<rect x="143.28" y="883.8" width="4.95" height="15.2" fill="#f8c6cb"/>
<rect x="149.62" y="885.07" width="4.95" height="13.93" fill="#c9e6d9"/>
<rect x="155.95" y="883.16" width="4.95" height="15.84" fill="#f8c6cb"/>
<rect x="162.28" y="876.14" width="4.95" height="22.86" fill="#f8c6cb"/>
<rect x="168.62" y="880.99" width="4.95" height="18.01" fill="#c9e6d9"/>
<rect x="174.95" y="883.16" width="4.95" height="15.84" fill="#f8c6cb"/>
<rect x="181.28" y="885.07" width="4.95" height="13.93" fill="#c9e6d9"/>
<rect x="187.62" y="878.05" width="4.95" height="20.95" fill="#c9e6d9"/>
<rect x="193.95" y="880.99" width="4.95" height="18.01" fill="#c9e6d9"/>
<rect x="200.28" y="883.8" width="4.95" height="15.2" fill="#f8c6cb"/>
<rect x="206.62" y="883.16" width="4.95" height="15.84" fill="#f8c6cb"/>
<rect x="212.95" y="882.14" width="4.95" height="16.86" fill="#c9e6d9"/>
<rect x="219.28" y="882.14" width="4.95" height="16.86" fill="#f8c6cb"/>
<rect x="225.62" y="882.14" width="4.95" height="16.86" fill="#f8c6cb"/>
<rect x="231.95" y="878.05" width="4.95" height="20.95" fill="#f8c6cb"/>
<rect x="238.28" y="879.97" width="4.95" height="19.03" fill="#c9e6d9"/>
<rect x="244.62" y="878.95" width="4.95" height="20.05" fill="#c9e6d9"/>
<rect x="250.95" y="871.93" width="4.95" height="27.07" fill="#f8c6cb"/>
<rect x="257.28" y="864.91" width="4.95" height="34.09" fill="#f8c6cb"/>
<rect x="263.62" y="878.95" width="4.95" height="20.05" fill="#f8c6cb"/>
<rect x="269.95" y="868.87" width="4.95" height="30.13" fill="#f8c6cb"/>
<rect x="276.28" y="882.9" width="4.95" height="16.1" fill="#f8c6cb"/>
<rect x="282.62" y="878.95" width="4.95" height="20.05" fill="#c9e6d9"/>
<rect x="288.95" y="886.99" width="4.95" height="12.01" fill="#c9e6d9"/>
<rect x="295.28" y="883.8" width="4.95" height="15.2" fill="#f8c6cb"/>
<rect x="301.62" y="883.8" width="4.95" height="15.2" fill="#c9e6d9"/>
<rect x="307.95" y="878.95" width="4.95" height="20.05" fill="#c9e6d9"/>
<rect x="314.28" y="883.8" width="4.95" height="15.2" fill="#f8c6cb"/>
<rect x="320.62" y="882.9" width="4.95" height="16.1" fill="#f8c6cb"/>
<rect x="326.95" y="882.9" width="4.95" height="16.1" fill="#f8c6cb"/>
<rect x="333.28" y="880.99" width="4.95" height="18.01" fill="#f8c6cb"/>
<rect x="339.62" y="882.9" width="4.95" height="16.1" fill="#c9e6d9"/>
<rect x="345.95" y="884.82" width="4.95" height="14.18" fill="#c9e6d9"/>
<rect x="352.28" y="879.97" width="4.95" height="19.03" fill="#f8c6cb"/>
<rect x="358.61" y="879.97" width="4.95" height="19.03" fill="#f8c6cb"/>
<rect x="364.95" y="877.03" width="4.95" height="21.97" fill="#c9e6d9"/>
<rect x="371.28" y="875.12" width="4.95" height="23.88" fill="#f8c6cb"/>
<rect x="377.61" y="880.99" width="4.95" height="18.01" fill="#f8c6cb"/>
<rect x="383.95" y="872.95" width="4.95" height="26.05" fill="#c9e6d9"/>
<rect x="390.28" y="883.8" width="4.95" height="15.2" fill="#c9e6d9"/>
<rect x="396.61" y="889.92" width="4.95" height="9.08" fill="#c9e6d9"/>
<rect x="402.95" y="888.9" width="4.95" height="10.1" fill="#c9e6d9"/>
<rect x="409.28" y="883.8" width="4.95" height="15.2" fill="#f8c6cb"/>
<rect x="415.61" y="883.8" width="4.95" height="15.2" fill="#c9e6d9"/>
<rect x="421.95" y="885.96" width="4.95" height="13.04" fill="#f8c6cb"/>
<rect x="428.28" y="882.14" width="4.95" height="16.86" fill="#c9e6d9"/>
<rect x="434.61" y="879.97" width="4.95" height="19.03" fill="#c9e6d9"/>
<rect x="440.95" y="875.89" width="4.95" height="23.11" fill="#c9e6d9"/>
<rect x="447.28" y="868.87" width="4.95" height="30.13" fill="#f8c6cb"/>
<rect x="453.61" y="878.95" width="4.95" height="20.05" fill="#f8c6cb"/>
<rect x="459.95" y="880.99" width="4.95" height="18.01" fill="#f8c6cb"/>
<rect x="466.28" y="882.14" width="4.95" height="16.86" fill="#c9e6d9"/>
<rect x="472.61" y="882.14" width="4.95" height="16.86" fill="#f8c6cb"/>
<rect x="478.95" y="883.16" width="4.95" height="15.84" fill="#c9e6d9"/>
<rect x="485.28" y="881.63" width="4.95" height="17.37" fill="#f8c6cb"/>
<rect x="491.61" y="881.63" width="4.95" height="17.37" fill="#c9e6d9"/>
<rect x="497.95" y="881.63" width="4.95" height="17.37" fill="#c9e6d9"/>
<rect x="504.28" y="879.33" width="4.95" height="19.67" fill="#c9e6d9"/>
<rect x="510.61" y="885.96" width="4.95" height="13.04" fill="#c9e6d9"/>
<rect x="516.95" y="879.33" width="4.95" height="19.67" fill="#f8c6cb"/>
<rect x="523.28" y="830.21" width="4.95" height="68.79" fill="#f8c6cb"/>
<rect x="529.61" y="849.98" width="4.95" height="49.02" fill="#c9e6d9"/>
<rect x="535.95" y="858.92" width="4.95" height="40.08" fill="#f8c6cb"/>
<rect x="542.28" y="865.93" width="4.95" height="33.07" fill="#c9e6d9"/>
<rect x="548.61" y="865.93" width="4.95" height="33.07" fill="#f8c6cb"/>
<rect x="554.95" y="868.1" width="4.95" height="30.9" fill="#c9e6d9"/>
<rect x="561.28" y="878.05" width="4.95" height="20.95" fill="#c9e6d9"/>
<rect x="567.61" y="876.78" width="4.95" height="22.22" fill="#c9e6d9"/>
<rect x="573.95" y="878.05" width="4.95" height="20.95" fill="#c9e6d9"/>
<rect x="580.28" y="878.05" width="4.95" height="20.95" fill="#c9e6d9"/>
<rect x="586.61" y="879.97" width="4.95" height="19.03" fill="#c9e6d9"/>
<rect x="592.95" y="882.9" width="4.95" height="16.1" fill="#c9e6d9"/>
<rect x="599.28" y="885.07" width="4.95" height="13.93" fill="#c9e6d9"/>
<rect x="605.61" y="882.14" width="4.95" height="16.86" fill="#c9e6d9"/>
<rect x="611.95" y="882.14" width="4.95" height="16.86" fill="#c9e6d9"/>
<rect x="618.28" y="879.97" width="4.95" height="19.03" fill="#f8c6cb"/>
<rect x="624.61" y="883.8" width="4.95" height="15.2" fill="#f8c6cb"/>
<rect x="630.95" y="885.96" width="4.95" height="13.04" fill="#c9e6d9"/>
<rect x="637.28" y="878.69" width="4.95" height="20.31" fill="#f8c6cb"/>
<rect x="643.61" y="878.05" width="4.95" height="20.95" fill="#f8c6cb"/>
<rect x="649.95" y="876.14" width="4.95" height="22.86" fill="#f8c6cb"/>
<rect x="656.28" y="871.93" width="4.95" height="27.07" fill="#c9e6d9"/>
<rect x="662.61" y="861.08" width="4.95" height="37.92" fill="#f8c6cb"/>
<rect x="668.95" y="865.93" width="4.95" height="33.07" fill="#c9e6d9"/>
<rect x="675.28" y="864.02" width="4.95" height="34.98" fill="#f8c6cb"/>
<rect x="681.61" y="864.91" width="4.95" height="34.09" fill="#c9e6d9"/>
<rect x="687.95" y="875.12" width="4.95" height="23.88" fill="#f8c6cb"/>
<rect x="694.28" y="871.93" width="4.95" height="27.07" fill="#f8c6cb"/>
<rect x="700.61" y="870.02" width="4.95" height="28.98" fill="#c9e6d9"/>
<rect x="706.95" y="868.1" width="4.95" height="30.9" fill="#f8c6cb"/>
<rect x="713.28" y="868.87" width="4.95" height="30.13" fill="#c9e6d9"/>
<rect x="719.61" y="871.04" width="4.95" height="27.96" fill="#c9e6d9"/>
<rect x="725.95" y="873.33" width="4.95" height="25.67" fill="#f8c6cb"/>
<rect x="732.28" y="874.23" width="4.95" height="24.77" fill="#c9e6d9"/>
<rect x="738.61" y="877.03" width="4.95" height="21.97" fill="#f8c6cb"/>
<rect x="744.95" y="873.33" width="4.95" height="25.67" fill="#f8c6cb"/>
<rect x="751.28" y="876.14" width="4.95" height="22.86" fill="#c9e6d9"/>
<rect x="757.61" y="876.78" width="4.95" height="22.22" fill="#c9e6d9"/>
<rect x="763.95" y="876.14" width="4.95" height="22.86" fill="#c9e6d9"/>
<rect x="770.28" y="878.95" width="4.95" height="20.05" fill="#c9e6d9"/>
<rect x="776.61" y="884.05" width="4.95" height="14.95" fill="#c9e6d9"/>
<rect x="782.95" y="873.33" width="4.95" height="25.67" fill="#f8c6cb"/>
<rect x="789.28" y="878.95" width="4.95" height="20.05" fill="#c9e6d9"/>
<rect x="795.61" y="878.95" width="4.95" height="20.05" fill="#f8c6cb"/>
<rect x="801.95" y="875.12" width="4.95" height="23.88" fill="#c9e6d9"/>
<rect x="808.28" y="879.97" width="4.95" height="19.03" fill="#c9e6d9"/>
<rect x="814.61" y="879.97" width="4.95" height="19.03" fill="#c9e6d9"/>
<rect x="820.95" y="870.02" width="4.95" height="28.98" fill="#f8c6cb"/>
<rect x="827.28" y="854.07" width="4.95" height="44.93" fill="#f8c6cb"/>
<rect x="833.61" y="847.05" width="4.95" height="51.95" fill="#c9e6d9"/>
<rect x="839.95" y="858.92" width="4.95" height="40.08" fill="#f8c6cb"/>
<rect x="846.28" y="847.05" width="4.95" height="51.95" fill="#c9e6d9"/>
<rect x="852.61" y="862.11" width="4.95" height="36.89" fill="#f8c6cb"/>
<rect x="858.95" y="872.31" width="4.95" height="26.69" fill="#c9e6d9"/>
<rect x="865.28" y="876.14" width="4.95" height="22.86" fill="#f8c6cb"/>
<rect x="871.61" y="878.95" width="4.95" height="20.05" fill="#c9e6d9"/>
<rect x="877.95" y="865.04" width="4.95" height="33.96" fill="#f8c6cb"/>
<rect x="884.28" y="874.23" width="4.95" height="24.77" fill="#f8c6cb"/>
<rect x="890.61" y="875.12" width="4.95" height="23.88" fill="#f8c6cb"/>
<rect x="896.95" y="878.05" width="4.95" height="20.95" fill="#c9e6d9"/>
<rect x="903.28" y="877.03" width="4.95" height="21.97" fill="#f8c6cb"/>
<rect x="909.61" y="879.97" width="4.95" height="19.03" fill="#c9e6d9"/>
<rect x="915.95" y="877.03" width="4.95" height="21.97" fill="#c9e6d9"/>
<rect x="922.28" y="880.99" width="4.95" height="18.01" fill="#f8c6cb"/>
<rect x="928.61" y="884.05" width="4.95" height="14.95" fill="#c9e6d9"/>
<rect x="934.95" y="878.95" width="4.95" height="20.05" fill="#c9e6d9"/>
<rect x="941.28" y="878.95" width="4.95" height="20.05" fill="#f8c6cb"/>
<rect x="947.61" y="882.9" width="4.95" height="16.1" fill="#c9e6d9"/>
<rect x="953.95" y="886.99" width="4.95" height="12.01" fill="#c9e6d9"/>
<rect x="960.28" y="885.07" width="4.95" height="13.93" fill="#c9e6d9"/>
<rect x="966.61" y="880.99" width="4.95" height="18.01" fill="#c9e6d9"/>
<rect x="972.94" y="882.14" width="4.95" height="16.86" fill="#f8c6cb"/>
<rect x="979.28" y="886.99" width="4.95" height="12.01" fill="#f8c6cb"/>
<rect x="985.61" y="879.97" width="4.95" height="19.03" fill="#c9e6d9"/>
<rect x="991.94" y="871.04" width="4.95" height="27.96" fill="#c9e6d9"/>
<rect x="998.28" y="875.12" width="4.95" height="23.88" fill="#c9e6d9"/>
<rect x="1004.61" y="878.95" width="4.95" height="20.05" fill="#c9e6d9"/>
<rect x="1010.94" y="878.95" width="4.95" height="20.05" fill="#f8c6cb"/>
<rect x="1017.28" y="882.14" width="4.95" height="16.86" fill="#c9e6d9"/>
<rect x="1023.61" y="885.07" width="4.95" height="13.93" fill="#c9e6d9"/>
<rect x="1029.94" y="876.14" width="4.95" height="22.86" fill="#f8c6cb"/>
<rect x="1036.28" y="882.9" width="4.95" height="16.1" fill="#c9e6d9"/>
<rect x="1042.61" y="882.14" width="4.95" height="16.86" fill="#c9e6d9"/>
<rect x="1048.94" y="882.14" width="4.95" height="16.86" fill="#c9e6d9"/>
<rect x="1055.28" y="872.95" width="4.95" height="26.05" fill="#f8c6cb"/>
<rect x="1061.61" y="868.1" width="4.95" height="30.9" fill="#f8c6cb"/>
<rect x="1067.94" y="870.02" width="4.95" height="28.98" fill="#f8c6cb"/>
<rect x="1074.28" y="882.14" width="4.95" height="16.86" fill="#c9e6d9"/>
<rect x="1080.61" y="879.97" width="4.95" height="19.03" fill="#c9e6d9"/>
<rect x="1086.94" y="884.05" width="4.95" height="14.95" fill="#f8c6cb"/>
<rect x="1093.28" y="878.95" width="4.95" height="20.05" fill="#f8c6cb"/>
<rect x="1099.61" y="885.96" width="4.95" height="13.04" fill="#f8c6cb"/>
<rect x="1105.94" y="882.9" width="4.95" height="16.1" fill="#f8c6cb"/>
<rect x="1112.28" y="885.96" width="4.95" height="13.04" fill="#c9e6d9"/>
<rect x="1118.61" y="884.05" width="4.95" height="14.95" fill="#f8c6cb"/>
<rect x="1124.94" y="885.07" width="4.95" height="13.93" fill="#c9e6d9"/>
<rect x="1131.28" y="882.9" width="4.95" height="16.1" fill="#f8c6cb"/>
<rect x="1137.61" y="882.9" width="4.95" height="16.1" fill="#c9e6d9"/>
<rect x="1143.94" y="886.99" width="4.95" height="12.01" fill="#f8c6cb"/>
<rect x="1150.28" y="885.07" width="4.95" height="13.93" fill="#c9e6d9"/>
<rect x="1156.61" y="878.95" width="4.95" height="20.05" fill="#f8c6cb"/>
<rect x="1162.94" y="885.96" width="4.95" height="13.04" fill="#c9e6d9"/>
<rect x="1169.28" y="882.9" width="4.95" height="16.1" fill="#c9e6d9"/>
<rect x="1175.61" y="876.14" width="4.95" height="22.86" fill="#c9e6d9"/>
<rect x="1181.94" y="882.14" width="4.95" height="16.86" fill="#f8c6cb"/>
<rect x="1188.28" y="876.14" width="4.95" height="22.86" fill="#c9e6d9"/>
<rect x="1194.61" y="882.14" width="4.95" height="16.86" fill="#f8c6cb"/>
<rect x="1200.94" y="880.99" width="4.95" height="18.01" fill="#f8c6cb"/>
<rect x="1207.28" y="884.05" width="4.95" height="14.95" fill="#c9e6d9"/>
<rect x="1213.61" y="885.96" width="4.95" height="13.04" fill="#c9e6d9"/>
<rect x="1219.94" y="886.99" width="4.95" height="12.01" fill="#c9e6d9"/>
<rect x="1226.28" y="886.99" width="4.95" height="12.01" fill="#c9e6d9"/>
<rect x="1232.61" y="883.16" width="4.95" height="15.84" fill="#c9e6d9"/>
<rect x="1238.94" y="884.05" width="4.95" height="14.95" fill="#f8c6cb"/>
<rect x="1245.28" y="882.14" width="4.95" height="16.86" fill="#c9e6d9"/>
<rect x="1251.61" y="886.99" width="4.95" height="12.01" fill="#f8c6cb"/>
<rect x="1257.94" y="878.95" width="4.95" height="20.05" fill="#f8c6cb"/>
<rect x="1264.28" y="885.07" width="4.95" height="13.93" fill="#c9e6d9"/>
<rect x="1270.61" y="885.07" width="4.95" height="13.93" fill="#c9e6d9"/>
<rect x="1276.94" y="885.96" width="4.95" height="13.04" fill="#f8c6cb"/>
<rect x="1283.28" y="888.01" width="4.95" height="10.99" fill="#f8c6cb"/>
<rect x="1289.61" y="882.14" width="4.95" height="16.86" fill="#f8c6cb"/>
<rect x="1295.94" y="885.96" width="4.95" height="13.04" fill="#c9e6d9"/>
<rect x="1302.28" y="886.99" width="4.95" height="12.01" fill="#c9e6d9"/>
<rect x="1308.61" y="888.01" width="4.95" height="10.99" fill="#f8c6cb"/>
<rect x="1314.94" y="886.99" width="4.95" height="12.01" fill="#c9e6d9"/>
<rect x="1321.28" y="885.96" width="4.95" height="13.04" fill="#f8c6cb"/>
<rect x="1327.61" y="884.05" width="4.95" height="14.95" fill="#c9e6d9"/>
<rect x="1333.94" y="879.97" width="4.95" height="19.03" fill="#f8c6cb"/>
<rect x="1340.28" y="883.16" width="4.95" height="15.84" fill="#f8c6cb"/>
<rect x="1346.61" y="885.96" width="4.95" height="13.04" fill="#c9e6d9"/>
<rect x="1352.94" y="885.96" width="4.95" height="13.04" fill="#f8c6cb"/>
<rect x="1359.28" y="886.99" width="4.95" height="12.01" fill="#c9e6d9"/>
<rect x="1365.61" y="885.96" width="4.95" height="13.04" fill="#f8c6cb"/>
<rect x="1371.94" y="888.01" width="4.95" height="10.99" fill="#c9e6d9"/>
<rect x="1378.28" y="886.99" width="4.95" height="12.01" fill="#c9e6d9"/>
<rect x="1384.61" y="885.96" width="4.95" height="13.04" fill="#c9e6d9"/>
<rect x="1390.94" y="884.05" width="4.95" height="14.95" fill="#f8c6cb"/>
<rect x="1397.28" y="886.99" width="4.95" height="12.01" fill="#c9e6d9"/>
<rect x="1403.61" y="885.07" width="4.95" height="13.93" fill="#f8c6cb"/>
<rect x="1409.94" y="886.99" width="4.95" height="12.01" fill="#c9e6d9"/>
<rect x="1416.28" y="883.16" width="4.95" height="15.84" fill="#f8c6cb"/>
<rect x="1422.61" y="879.97" width="4.95" height="19.03" fill="#c9e6d9"/>
<rect x="1428.94" y="886.99" width="4.95" height="12.01" fill="#c9e6d9"/>
<rect x="1435.28" y="884.05" width="4.95" height="14.95" fill="#c9e6d9"/>
<polyline points="11.2,869.4 25.5,869.4 57.4,869.1 71.5,871 89.3,872.3 127.6,872.7 150.6,874 165.9,874 181.2,875.1 199,875.5 216.9,876.4 240,877.7 253,878.1 268.3,877.7 286.1,877.4 297.6,878.3 319.3,879.1 344.8,879.6 370.4,879.3 395.9,879.3 408.6,880.6 429,881.2 444.4,881.2 454.6,880.4 470,880.6 485.5,880.4 517.4,880.4 523.8,879.3 536.6,878.4 555.7,877.7 574.8,878.1 600.4,878.1 625.9,878.1 645,878.1 659,877.7 670.5,876.4 689.7,876.1 700,875.9 709.1,875.2 728.3,874.5 747.4,873.8 779.3,874.2 804.8,874 824,873.6 831.6,872.3 843.1,872.3 862.2,872.6 873.7,873.6 894.1,873.1 919.7,872.3 930,872.3 945.5,872.3 964.7,873 983.8,874.2 1009.3,874.9 1022.1,875.5 1047.6,875.8 1066.7,875.1 1085.9,875.5 1096.1,875.5 1111.4,876.1 1136.9,876.1 1147.1,878.1 1160,878.9 1162.8,879.3 1181.9,880 1201,880.6 1220.2,881.2 1245.7,881.6 1264.8,881.9 1296.7,881.9 1309.5,882.5 1335,882.5 1366.9,882.8 1390,883.5 1395.7,883.4 1414.8,884.1 1438.8,884.4" fill="none" stroke="#111" stroke-width="1.1" stroke-linejoin="round" stroke-linecap="round" />
<line x1="11.5" y1="931.4" x2="1826.7" y2="931.4" stroke="#7a7a7a" stroke-width="1" stroke-dasharray="6 7"/>
<polyline points="11.2,923.1 19.1,923.1 25.5,926.5 31.9,927.4 43.4,924.9 51,922.1 56.1,918.9 68.9,913.1 76.6,911.6 82.3,909.3 89.3,913.8 99.5,915.3 108.5,915.1 113.6,912.5 121.2,911.9 132.7,915.4 140.4,916.3 150.6,917.6 158.2,919.5 165.9,926.5 172.2,929.1 178.6,929.7 183.7,928.5 193.9,922.1 201.6,919.1 209.3,919.5 215.6,918.9 229.7,920.8 236,924.6 240,926.5 249.1,926.5 260.6,926.2 267,929.1 273.4,933.6 283.6,937.4 295.1,937.4 304,936.4 309.1,932.5 316.8,929.7 324.4,929.5 334.6,934.8 346.1,934.8 356.3,938 365.2,941.2 371.6,943.8 380.6,944 386.9,940.8 394.6,935.5 398.4,932.3 406.1,929.7 417.6,929.7 425.2,932.5 432.9,929.7 438,926.2 443.3,921.7 449.5,925 455.8,925.9 463.5,929.7 470,932.9 474,934.8 488.1,935.2 499.6,932 503.4,929.1 509.8,925.9 513.6,925 519.7,925.3 525.1,935.1 531.5,936.7 539.1,938.9 546.8,940.2 555.7,942.1 564,942.9 571,940.6 579.9,937.1 590.1,932.5 599.1,930.6 608,929.1 614.4,926.2 624.6,923 632.2,921.7 637.4,922.3 645,927.2 653.9,932.3 659,932.9 665.4,937 670.5,938 678.2,942.1 689.7,943.4 700,945 702.8,944.4 709.1,946.3 716.2,946.6 721.9,943.8 728.3,941.9 734,937 741,935.9 751.2,934.8 761.5,933.3 771.7,931.9 778.7,929.7 783.1,932 788.2,932.5 794.6,936.4 802.3,939.7 809.9,940.6 817.6,940.6 824,944.4 829.1,948.9 834.2,948.9 841.8,950.1 848.9,939.9 855.9,936.7 866.1,933.2 873.1,931.9 881.4,932.9 889,936.1 894.1,937.8 904.4,938 910.7,936.1 917.1,932.9 924.8,930.7 930,929.5 939.1,929.1 949.3,925.3 960.8,923.1 971,920.8 976.1,919.3 983.8,918.5 991.5,912.5 999.1,908 1006.8,905.5 1014.4,904 1020.8,903.6 1027.2,904 1034.8,906.8 1045,910.6 1052.7,910.8 1059.1,911.9 1064.2,910.3 1069.3,913.5 1076.9,915.4 1085.9,914.2 1096.1,914.7 1105,914.7 1113.9,913.8 1121.6,914.4 1126.7,913.8 1134.4,916.7 1144.6,917.6 1153.5,918.2 1160,919.5 1167.9,919.8 1173,918.2 1178.1,913.8 1189.6,908.7 1197.2,906.8 1202.3,910.6 1210,911.6 1216.3,911.2 1224,912.8 1230.4,912.5 1236.8,910.8 1245.7,908.7 1254.6,908.7 1263.6,905.7 1272.5,904.2 1278.9,904 1286.5,904.8 1290.4,909.3 1296.7,912.8 1309.5,913.1 1322.2,912.5 1329.9,911.2 1337.6,912.5 1342.7,916.7 1350.3,916.3 1355.4,918 1364.4,918.5 1373.3,916.7 1390,916.7 1398.2,918 1404.6,919.8 1412.3,920.2 1417.4,925.3 1425,929.3 1430.1,932.9 1438.8,932.5" fill="none" stroke="#555" stroke-width="2.1" stroke-linejoin="round" stroke-linecap="round" />
<polyline points="11.2,926.9 25.5,925.9 38.3,926.2 48.5,925.3 58.7,922.5 71.5,918.2 81.7,915.4 94.4,914.7 108.5,915.1 121.2,913.8 135.2,914.7 146.7,915.1 158.2,915.9 171,921.2 178.6,923.6 186.3,925.3 199,923.1 209.3,922.1 216.9,921.1 229.7,921.1 240,922.5 242.8,923.1 261.9,924.9 272.1,927.2 283.6,930.7 293.8,933.6 304,934.8 312.9,933.6 324.4,932.3 338.5,932.5 351.2,934.2 365.2,936.7 374.2,939.3 383.1,940.2 392,939.9 402.2,937.4 413.7,934.2 423.9,932.9 434.1,932 446.9,928.2 457.1,927.8 470,929.5 472.8,930 485.5,932.9 498.3,932.5 511,929.5 520,928.7 531.5,931.6 542.9,934.8 554.4,937.4 564.6,939.6 574.8,939.7 587.6,937.4 600.4,934.2 613.1,931.3 625.9,927.8 633.5,925.9 641.2,925.6 651.4,927.8 664.1,930.1 676.9,934.8 689.7,938.3 700,940.6 702.8,941.2 715.5,943.4 727,943.1 738.5,940.2 750,938 764,935.7 776.8,933.6 787,933.6 798.5,935.5 812.5,937.4 822.7,939.9 834.2,943.1 843.1,945 853.3,942.5 866.1,938.7 875,936.4 886.5,935.5 896.7,936.4 906.9,936.1 917.1,934.8 930,932.9 932.8,933.3 945.5,930.4 958.3,927.4 971,924.9 983.8,922.7 996.6,918 1009.3,912.5 1022.1,908.4 1029.7,907.8 1041.2,907.8 1054,908.7 1066.7,910.6 1079.5,911.9 1092.2,912.9 1105,913.4 1117.8,914.2 1130.5,914.4 1143.3,915.1 1160,916.7 1162.8,917.6 1171.7,918 1181.9,916.3 1193.4,912.9 1203.6,911.6 1216.3,911.9 1229.1,911.9 1241.9,910.8 1254.6,910 1267.4,908.3 1277.6,906.8 1286.5,906.5 1294.2,907.8 1309.5,910.6 1322.2,911.2 1335,911.6 1347.8,913.1 1360.5,915.4 1373.3,915.9 1390,915.9 1394.4,915.9 1404.6,917.6 1412.3,918 1419.9,920.8 1431.4,925.3 1438.8,927.2" fill="none" stroke="#e9528c" stroke-width="2.1" stroke-linejoin="round" stroke-linecap="round" opacity="0.9"/>
<line x1="1826.7" y1="31" x2="1826.7" y2="1026" stroke="#505050" stroke-width="1.05" />
<line x1="11.5" y1="994.4" x2="1907.5" y2="994.4" stroke="#505050" stroke-width="1.1" />
<g clip-path="url(#ca)">
<text x="1836.6" y="39.3" font-size="13" fill="#444" text-anchor="start" font-weight="normal" textLength="35.4" lengthAdjust="spacing" >80.00</text>
<text x="1836.6" y="86.2" font-size="13" fill="#444" text-anchor="start" font-weight="normal" textLength="35.4" lengthAdjust="spacing" >40.00</text>
<text x="1836.6" y="165.4" font-size="13" fill="#444" text-anchor="start" font-weight="normal" textLength="43.3" lengthAdjust="spacing" >240.00</text>
<text x="1836.6" y="208.9" font-size="13" fill="#444" text-anchor="start" font-weight="normal" textLength="43.3" lengthAdjust="spacing" >220.00</text>
<text x="1836.6" y="256.5" font-size="13" fill="#444" text-anchor="start" font-weight="normal" textLength="43.3" lengthAdjust="spacing" >200.00</text>
<text x="1836.6" y="309.5" font-size="13" fill="#444" text-anchor="start" font-weight="normal" textLength="43.3" lengthAdjust="spacing" >180.00</text>
<text x="1836.6" y="368.6" font-size="13" fill="#444" text-anchor="start" font-weight="normal" textLength="43.3" lengthAdjust="spacing" >160.00</text>
<text x="1836.6" y="418" font-size="13" fill="#444" text-anchor="start" font-weight="normal" textLength="43.3" lengthAdjust="spacing" >145.00</text>
<text x="1836.6" y="461.3" font-size="13" fill="#444" text-anchor="start" font-weight="normal" textLength="43.3" lengthAdjust="spacing" >133.00</text>
<text x="1836.6" y="508.9" font-size="13" fill="#444" text-anchor="start" font-weight="normal" textLength="43.3" lengthAdjust="spacing" >121.00</text>
<text x="1836.6" y="543" font-size="13" fill="#444" text-anchor="start" font-weight="normal" textLength="43.3" lengthAdjust="spacing" >113.00</text>
<text x="1836.6" y="577.5" font-size="13" fill="#444" text-anchor="start" font-weight="normal" textLength="43.3" lengthAdjust="spacing" >105.50</text>
<text x="1836.6" y="617.3" font-size="13" fill="#444" text-anchor="start" font-weight="normal" textLength="35.3" lengthAdjust="spacing" >97.50</text>
<text x="1836.6" y="660.4" font-size="13" fill="#444" text-anchor="start" font-weight="normal" textLength="35.3" lengthAdjust="spacing" >89.50</text>
<text x="1836.6" y="695.3" font-size="13" fill="#444" text-anchor="start" font-weight="normal" textLength="35.3" lengthAdjust="spacing" >83.50</text>
<text x="1836.6" y="732.4" font-size="13" fill="#444" text-anchor="start" font-weight="normal" textLength="35.3" lengthAdjust="spacing" >77.50</text>
<text x="1836.6" y="766.4" font-size="13" fill="#444" text-anchor="start" font-weight="normal" textLength="35.3" lengthAdjust="spacing" >72.50</text>
<text x="1836.6" y="801.6" font-size="13" fill="#444" text-anchor="start" font-weight="normal" textLength="35.3" lengthAdjust="spacing" >67.50</text>
<text x="1836.6" y="836.2" font-size="13" fill="#444" text-anchor="start" font-weight="normal" textLength="23.9" lengthAdjust="spacing" >800</text>
<text x="1862.8" y="836.2" font-size="13" fill="#444" text-anchor="start" font-weight="normal" >M</text>
<text x="1836.6" y="870.2" font-size="13" fill="#444" text-anchor="start" font-weight="normal" textLength="23.9" lengthAdjust="spacing" >400</text>
<text x="1862.8" y="870.2" font-size="13" fill="#444" text-anchor="start" font-weight="normal" >M</text>
<text x="1836.6" y="936.3" font-size="13" fill="#444" text-anchor="start" font-weight="normal" textLength="43.7" lengthAdjust="spacing" >0.0000</text>
</g>
<rect x="1831" y="105.6" width="72.2" height="30.6" rx="4" fill="#fff" stroke="#f0f0f0" stroke-width="1"/>
<text x="1841.7" y="125.8" font-size="13.5" fill="#111" text-anchor="start" font-weight="normal" textLength="28.2" lengthAdjust="spacing" stroke="#111" stroke-width="0.3">USD</text>
<path d="M1827,175.2 H1885 q2,0 2,2 V191.8 q0,2 -2,2 H1827 Z" fill="#000"/>
<text x="1836.6" y="189" font-size="13" fill="#fff" text-anchor="start" font-weight="normal" textLength="43.3" lengthAdjust="spacing" >228.55</text>
<path d="M1827,301.3 H1885 q2,0 2,2 V317.7 q0,2 -2,2 H1827 Z" fill="#66a282"/>
<text x="1836.6" y="315" font-size="13" fill="#fff" text-anchor="start" font-weight="normal" textLength="43.3" lengthAdjust="spacing" >177.99</text>
<text x="25.4" y="1015" font-size="12.4" fill="#4d4d4d" text-anchor="middle" font-weight="normal" textLength="21.7" lengthAdjust="spacing" >Oct</text>
<text x="171" y="1015" font-size="12.4" fill="#4d4d4d" text-anchor="middle" font-weight="normal" textLength="23.6" lengthAdjust="spacing" >Nov</text>
<text x="297.7" y="1015" font-size="12.4" fill="#4d4d4d" text-anchor="middle" font-weight="normal" textLength="24" lengthAdjust="spacing" >Dec</text>
<text x="430.5" y="1015" font-size="12.6" fill="#3a3a3a" text-anchor="middle" font-weight="bold" textLength="34" lengthAdjust="spacing" >2025</text>
<text x="557.6" y="1015" font-size="12.4" fill="#4d4d4d" text-anchor="middle" font-weight="normal" textLength="22.2" lengthAdjust="spacing" >Feb</text>
<text x="677.4" y="1015" font-size="12.4" fill="#4d4d4d" text-anchor="middle" font-weight="normal" textLength="23.2" lengthAdjust="spacing" >Mar</text>
<text x="810.8" y="1015" font-size="12.4" fill="#4d4d4d" text-anchor="middle" font-weight="normal" textLength="21.2" lengthAdjust="spacing" >Apr</text>
<text x="943.4" y="1015" font-size="12.4" fill="#4d4d4d" text-anchor="middle" font-weight="normal" textLength="24.6" lengthAdjust="spacing" >May</text>
<text x="1076.7" y="1015" font-size="12.4" fill="#4d4d4d" text-anchor="middle" font-weight="normal" textLength="22" lengthAdjust="spacing" >Jun</text>
<text x="1203.5" y="1015" font-size="12.4" fill="#4d4d4d" text-anchor="middle" font-weight="normal" textLength="17" lengthAdjust="spacing" >Jul</text>
<text x="1342.6" y="1015" font-size="12.4" fill="#4d4d4d" text-anchor="middle" font-weight="normal" textLength="23.3" lengthAdjust="spacing" >Aug</text>
<text x="1475.4" y="1015" font-size="12.4" fill="#4d4d4d" text-anchor="middle" font-weight="normal" textLength="23.7" lengthAdjust="spacing" >Sep</text>
<text x="1608" y="1015" font-size="12.4" fill="#4d4d4d" text-anchor="middle" font-weight="normal" textLength="21.7" lengthAdjust="spacing" >Oct</text>
<text x="1754" y="1015" font-size="12.4" fill="#4d4d4d" text-anchor="middle" font-weight="normal" textLength="23.6" lengthAdjust="spacing" >Nov</text>
<g fill="#111"><path d="M14,1052.2 H27.8 V1070 H21 V1059.4 H14 Z"/><circle cx="33.1" cy="1055.4" r="3.3"/><path d="M39.6,1052.2 H48.8 L41.6,1070 H32.9 Z"/></g>
<text x="57.2" y="1070" font-size="25" fill="#111" text-anchor="start" font-weight="bold" textLength="140.5" lengthAdjust="spacing" >TradingView</text>
</svg>
</body></html>
